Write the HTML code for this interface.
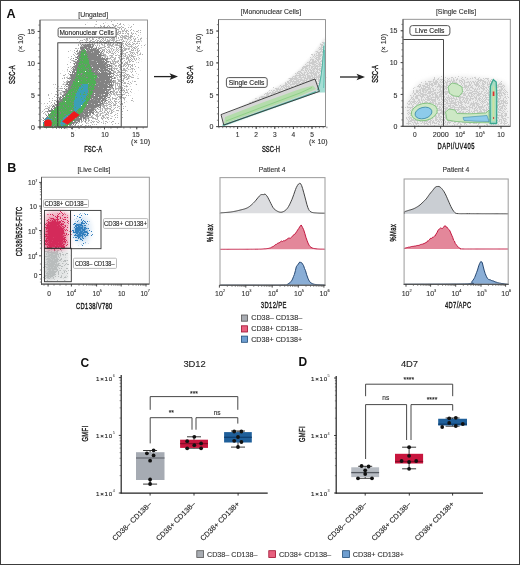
<!DOCTYPE html><html><head><meta charset="utf-8"><style>html,body{margin:0;padding:0;background:#fff}svg{display:block;will-change:transform}text{font-family:"Liberation Sans",sans-serif}</style></head><body>
<svg xmlns="http://www.w3.org/2000/svg" width="520" height="565" viewBox="0 0 520 565">
<defs>
<filter id="b1" x="-20%" y="-20%" width="140%" height="140%"><feGaussianBlur stdDeviation="1.2"/></filter>
<filter id="b2" x="-20%" y="-20%" width="140%" height="140%"><feGaussianBlur stdDeviation="2.2"/></filter>
<filter id="b3" x="-30%" y="-30%" width="160%" height="160%"><feGaussianBlur stdDeviation="3.5"/></filter>
<filter id="b05"><feGaussianBlur stdDeviation="0.5"/></filter>
<filter id="sg1" filterUnits="userSpaceOnUse" x="0" y="0" width="520" height="565" color-interpolation-filters="sRGB">
<feTurbulence type="fractalNoise" baseFrequency="1.3" numOctaves="2" seed="7" result="noise"/>
<feColorMatrix in="noise" type="matrix" values="0 0 0 0 0 0 0 0 0 0 0 0 0 0 0 1.6 0 0 0 -0.3" result="nA"/>
<feComposite in="SourceGraphic" in2="nA" operator="arithmetic" k1="0" k2="1" k3="-1" k4="0.5" result="diff"/>
<feComponentTransfer in="diff" result="th"><feFuncA type="linear" slope="12" intercept="-6.5"/></feComponentTransfer>
<feFlood flood-color="#b0b0b0"/>
<feComposite in2="th" operator="in"/>
<feGaussianBlur stdDeviation="0.3"/>
</filter>
<filter id="sg2" filterUnits="userSpaceOnUse" x="0" y="0" width="520" height="565" color-interpolation-filters="sRGB">
<feTurbulence type="fractalNoise" baseFrequency="1.3" numOctaves="2" seed="11" result="noise"/>
<feColorMatrix in="noise" type="matrix" values="0 0 0 0 0 0 0 0 0 0 0 0 0 0 0 1.6 0 0 0 -0.3" result="nA"/>
<feComposite in="SourceGraphic" in2="nA" operator="arithmetic" k1="0" k2="1" k3="-1" k4="0.5" result="diff"/>
<feComponentTransfer in="diff" result="th"><feFuncA type="linear" slope="12" intercept="-6.5"/></feComponentTransfer>
<feFlood flood-color="#828282"/>
<feComposite in2="th" operator="in"/>
<feGaussianBlur stdDeviation="0.3"/>
</filter>
<filter id="sgr" filterUnits="userSpaceOnUse" x="0" y="0" width="520" height="565" color-interpolation-filters="sRGB">
<feTurbulence type="fractalNoise" baseFrequency="1.3" numOctaves="2" seed="5" result="noise"/>
<feColorMatrix in="noise" type="matrix" values="0 0 0 0 0 0 0 0 0 0 0 0 0 0 0 1.6 0 0 0 -0.3" result="nA"/>
<feComposite in="SourceGraphic" in2="nA" operator="arithmetic" k1="0" k2="1" k3="-1" k4="0.5" result="diff"/>
<feComponentTransfer in="diff" result="th"><feFuncA type="linear" slope="12" intercept="-6.5"/></feComponentTransfer>
<feFlood flood-color="#4fae55"/>
<feComposite in2="th" operator="in"/>
<feGaussianBlur stdDeviation="0.3"/>
</filter>
<filter id="scy" filterUnits="userSpaceOnUse" x="0" y="0" width="520" height="565" color-interpolation-filters="sRGB">
<feTurbulence type="fractalNoise" baseFrequency="1.3" numOctaves="2" seed="3" result="noise"/>
<feColorMatrix in="noise" type="matrix" values="0 0 0 0 0 0 0 0 0 0 0 0 0 0 0 1.6 0 0 0 -0.3" result="nA"/>
<feComposite in="SourceGraphic" in2="nA" operator="arithmetic" k1="0" k2="1" k3="-1" k4="0.5" result="diff"/>
<feComponentTransfer in="diff" result="th"><feFuncA type="linear" slope="12" intercept="-6.5"/></feComponentTransfer>
<feFlood flood-color="#3b9fb8"/>
<feComposite in2="th" operator="in"/>
<feGaussianBlur stdDeviation="0.3"/>
</filter>
<filter id="sl" filterUnits="userSpaceOnUse" x="0" y="0" width="520" height="565" color-interpolation-filters="sRGB">
<feTurbulence type="fractalNoise" baseFrequency="1.3" numOctaves="2" seed="13" result="noise"/>
<feColorMatrix in="noise" type="matrix" values="0 0 0 0 0 0 0 0 0 0 0 0 0 0 0 1.6 0 0 0 -0.3" result="nA"/>
<feComposite in="SourceGraphic" in2="nA" operator="arithmetic" k1="0" k2="1" k3="-1" k4="0.5" result="diff"/>
<feComponentTransfer in="diff" result="th"><feFuncA type="linear" slope="12" intercept="-6.5"/></feComponentTransfer>
<feFlood flood-color="#cccccc"/>
<feComposite in2="th" operator="in"/>
<feGaussianBlur stdDeviation="0.3"/>
</filter>
<filter id="sred" filterUnits="userSpaceOnUse" x="0" y="0" width="520" height="565" color-interpolation-filters="sRGB">
<feTurbulence type="fractalNoise" baseFrequency="1.3" numOctaves="2" seed="21" result="noise"/>
<feColorMatrix in="noise" type="matrix" values="0 0 0 0 0 0 0 0 0 0 0 0 0 0 0 1.6 0 0 0 -0.3" result="nA"/>
<feComposite in="SourceGraphic" in2="nA" operator="arithmetic" k1="0" k2="1" k3="-1" k4="0.5" result="diff"/>
<feComponentTransfer in="diff" result="th"><feFuncA type="linear" slope="12" intercept="-6.5"/></feComponentTransfer>
<feFlood flood-color="#d42a5a"/>
<feComposite in2="th" operator="in"/>
<feGaussianBlur stdDeviation="0.3"/>
</filter>
<filter id="sblu" filterUnits="userSpaceOnUse" x="0" y="0" width="520" height="565" color-interpolation-filters="sRGB">
<feTurbulence type="fractalNoise" baseFrequency="1.3" numOctaves="2" seed="23" result="noise"/>
<feColorMatrix in="noise" type="matrix" values="0 0 0 0 0 0 0 0 0 0 0 0 0 0 0 1.6 0 0 0 -0.3" result="nA"/>
<feComposite in="SourceGraphic" in2="nA" operator="arithmetic" k1="0" k2="1" k3="-1" k4="0.5" result="diff"/>
<feComponentTransfer in="diff" result="th"><feFuncA type="linear" slope="12" intercept="-6.5"/></feComponentTransfer>
<feFlood flood-color="#2f7cbc"/>
<feComposite in2="th" operator="in"/>
<feGaussianBlur stdDeviation="0.3"/>
</filter>
<filter id="sgry" filterUnits="userSpaceOnUse" x="0" y="0" width="520" height="565" color-interpolation-filters="sRGB">
<feTurbulence type="fractalNoise" baseFrequency="1.3" numOctaves="2" seed="25" result="noise"/>
<feColorMatrix in="noise" type="matrix" values="0 0 0 0 0 0 0 0 0 0 0 0 0 0 0 1.6 0 0 0 -0.3" result="nA"/>
<feComposite in="SourceGraphic" in2="nA" operator="arithmetic" k1="0" k2="1" k3="-1" k4="0.5" result="diff"/>
<feComponentTransfer in="diff" result="th"><feFuncA type="linear" slope="12" intercept="-6.5"/></feComponentTransfer>
<feFlood flood-color="#b8bcbc"/>
<feComposite in2="th" operator="in"/>
<feGaussianBlur stdDeviation="0.3"/>
</filter>
<filter id="sl2" filterUnits="userSpaceOnUse" x="0" y="0" width="520" height="565" color-interpolation-filters="sRGB">
<feTurbulence type="fractalNoise" baseFrequency="1.3" numOctaves="2" seed="17" result="noise"/>
<feColorMatrix in="noise" type="matrix" values="0 0 0 0 0 0 0 0 0 0 0 0 0 0 0 1.6 0 0 0 -0.3" result="nA"/>
<feComposite in="SourceGraphic" in2="nA" operator="arithmetic" k1="0" k2="1" k3="-1" k4="0.5" result="diff"/>
<feComponentTransfer in="diff" result="th"><feFuncA type="linear" slope="12" intercept="-6.5"/></feComponentTransfer>
<feFlood flood-color="#a0a0a0"/>
<feComposite in2="th" operator="in"/>
<feGaussianBlur stdDeviation="0.3"/>
</filter>
</defs>
<rect x="0" y="0" width="520" height="565" fill="#fff"/>
<text x="6.60" y="17.80" font-size="12.6" text-anchor="start" fill="#111" font-weight="bold" >A</text>
<text x="7.20" y="172.40" font-size="12.6" text-anchor="start" fill="#111" font-weight="bold" >B</text>
<text x="80.60" y="366.80" font-size="12.0" text-anchor="start" fill="#111" font-weight="bold" >C</text>
<text x="298.40" y="366.40" font-size="12.0" text-anchor="start" fill="#111" font-weight="bold" >D</text>
<g filter="url(#sg1)"><g filter="url(#b3)">
<path d="M44,127 L42,105 L55,85 L66,62 L74,40 L84,22 L110,21 L146,21 L147,50 L140,80 L132,105 L120,127 Z" fill="#000" opacity="0.3"/>
<path d="M42,127 L42,112 L56,96 L68,72 L76,50 L86,30 L104,24 L130,26 L140,40 L136,70 L126,100 L110,120 L90,127 Z" fill="#000" opacity="0.4"/>
</g></g>
<g filter="url(#sg2)"><g filter="url(#b2)">
<path d="M42.2,128 L43.3,117.4 L46.5,111 L55,102.6 L63,91 L68,80 L71.5,70 L74.5,60 L78,50 L82,43 L92,42.5 L102,50 L109,58 L114,68 L116,80 L113,92 L108,102 L100,110 L90,118 L80,124 L69.7,128 Z" fill="#000" opacity="0.55"/>
<path d="M44,128 L46,116 L56,104 L64,92 L70,78 L75,62 L80,48 L86,44 L94,46 L100,54 L106,62 L110,72 L110,84 L106,96 L98,106 L88,116 L76,124 L66,128 Z" fill="#000" opacity="0.75"/>
</g></g>
<g filter="url(#sgr)"><g filter="url(#b05)">
<path d="M43,125 L48,115 L58,105 L66,95 L72,85 L76,75 L78,65 L80,55 L82,50 L85,49 L88,55 L90,65 L93,72 L97,75 L96,85 L92,95 L87,105 L80,115 L70,125 L65,128 L43,128 Z" fill="#000" opacity="0.8"/>
</g></g>
<g filter="url(#scy)"><g filter="url(#b05)">
<path d="M73,107 L75,97 L78,89 L82,84 L88,84 L88,93 L85,101 L80,108 L75,112 Z" fill="#000" opacity="0.85"/>
<path d="M60,122 L66,115 L74,111 L79,112 L76,118 L68,124 L61,126 Z" fill="#000" opacity="0.8"/>
<path d="M43,122 L47,117 L52,119 L52,126 L44,127 Z" fill="#000" opacity="0.8"/>
</g></g>
<path d="M44.6,121 L47,119.8 L50.5,120 L51.8,123 L51,126.6 L44.6,126.6 Z" fill="#ee1a1a" stroke="#e82020" stroke-width="0.6" stroke-linejoin="round"/>
<path d="M62.5,121.5 L67.5,124.2 L79.2,115 L74,111.4 Z" fill="#ee1a1a" stroke="#e82020" stroke-width="0.8" stroke-linejoin="round"/>
<rect x="57.80" y="42.80" width="63.40" height="84.20" fill="none" stroke="#333" stroke-width="0.9" />
<rect x="40.00" y="20.00" width="107.50" height="107.00" fill="none" stroke="#8a8a8a" stroke-width="0.9" />
<line x1="40.00" y1="20.00" x2="40.00" y2="127.50" stroke="#555" stroke-width="1.0" />
<line x1="39.50" y1="127.00" x2="147.50" y2="127.00" stroke="#444" stroke-width="1.0" />
<line x1="37.60" y1="127.00" x2="40.00" y2="127.00" stroke="#333" stroke-width="0.9" />
<line x1="37.60" y1="95.15" x2="40.00" y2="95.15" stroke="#333" stroke-width="0.9" />
<line x1="37.60" y1="63.30" x2="40.00" y2="63.30" stroke="#333" stroke-width="0.9" />
<line x1="37.60" y1="31.45" x2="40.00" y2="31.45" stroke="#333" stroke-width="0.9" />
<line x1="38.40" y1="127.00" x2="40.00" y2="127.00" stroke="#555" stroke-width="0.7" />
<line x1="38.40" y1="120.63" x2="40.00" y2="120.63" stroke="#555" stroke-width="0.7" />
<line x1="38.40" y1="114.26" x2="40.00" y2="114.26" stroke="#555" stroke-width="0.7" />
<line x1="38.40" y1="107.89" x2="40.00" y2="107.89" stroke="#555" stroke-width="0.7" />
<line x1="38.40" y1="101.52" x2="40.00" y2="101.52" stroke="#555" stroke-width="0.7" />
<line x1="38.40" y1="95.15" x2="40.00" y2="95.15" stroke="#555" stroke-width="0.7" />
<line x1="38.40" y1="88.78" x2="40.00" y2="88.78" stroke="#555" stroke-width="0.7" />
<line x1="38.40" y1="82.41" x2="40.00" y2="82.41" stroke="#555" stroke-width="0.7" />
<line x1="38.40" y1="76.04" x2="40.00" y2="76.04" stroke="#555" stroke-width="0.7" />
<line x1="38.40" y1="69.67" x2="40.00" y2="69.67" stroke="#555" stroke-width="0.7" />
<line x1="38.40" y1="63.30" x2="40.00" y2="63.30" stroke="#555" stroke-width="0.7" />
<line x1="38.40" y1="56.93" x2="40.00" y2="56.93" stroke="#555" stroke-width="0.7" />
<line x1="38.40" y1="50.56" x2="40.00" y2="50.56" stroke="#555" stroke-width="0.7" />
<line x1="38.40" y1="44.19" x2="40.00" y2="44.19" stroke="#555" stroke-width="0.7" />
<line x1="38.40" y1="37.82" x2="40.00" y2="37.82" stroke="#555" stroke-width="0.7" />
<line x1="38.40" y1="31.45" x2="40.00" y2="31.45" stroke="#555" stroke-width="0.7" />
<line x1="38.40" y1="25.08" x2="40.00" y2="25.08" stroke="#555" stroke-width="0.7" />
<line x1="40.00" y1="127.00" x2="40.00" y2="129.40" stroke="#333" stroke-width="0.9" />
<line x1="72.25" y1="127.00" x2="72.25" y2="129.40" stroke="#333" stroke-width="0.9" />
<line x1="104.50" y1="127.00" x2="104.50" y2="129.40" stroke="#333" stroke-width="0.9" />
<line x1="136.75" y1="127.00" x2="136.75" y2="129.40" stroke="#333" stroke-width="0.9" />
<line x1="40.00" y1="127.00" x2="40.00" y2="128.60" stroke="#555" stroke-width="0.7" />
<line x1="46.45" y1="127.00" x2="46.45" y2="128.60" stroke="#555" stroke-width="0.7" />
<line x1="52.90" y1="127.00" x2="52.90" y2="128.60" stroke="#555" stroke-width="0.7" />
<line x1="59.35" y1="127.00" x2="59.35" y2="128.60" stroke="#555" stroke-width="0.7" />
<line x1="65.80" y1="127.00" x2="65.80" y2="128.60" stroke="#555" stroke-width="0.7" />
<line x1="72.25" y1="127.00" x2="72.25" y2="128.60" stroke="#555" stroke-width="0.7" />
<line x1="78.70" y1="127.00" x2="78.70" y2="128.60" stroke="#555" stroke-width="0.7" />
<line x1="85.15" y1="127.00" x2="85.15" y2="128.60" stroke="#555" stroke-width="0.7" />
<line x1="91.60" y1="127.00" x2="91.60" y2="128.60" stroke="#555" stroke-width="0.7" />
<line x1="98.05" y1="127.00" x2="98.05" y2="128.60" stroke="#555" stroke-width="0.7" />
<line x1="104.50" y1="127.00" x2="104.50" y2="128.60" stroke="#555" stroke-width="0.7" />
<line x1="110.95" y1="127.00" x2="110.95" y2="128.60" stroke="#555" stroke-width="0.7" />
<line x1="117.40" y1="127.00" x2="117.40" y2="128.60" stroke="#555" stroke-width="0.7" />
<line x1="123.85" y1="127.00" x2="123.85" y2="128.60" stroke="#555" stroke-width="0.7" />
<line x1="130.30" y1="127.00" x2="130.30" y2="128.60" stroke="#555" stroke-width="0.7" />
<line x1="136.75" y1="127.00" x2="136.75" y2="128.60" stroke="#555" stroke-width="0.7" />
<line x1="143.20" y1="127.00" x2="143.20" y2="128.60" stroke="#555" stroke-width="0.7" />
<text x="35.00" y="129.50" font-size="7" text-anchor="end" fill="#333" stroke="#333" stroke-width="0.12" >0</text>
<text x="35.00" y="97.50" font-size="7" text-anchor="end" fill="#333" stroke="#333" stroke-width="0.12" >5</text>
<text x="35.00" y="66.00" font-size="7" text-anchor="end" fill="#333" stroke="#333" stroke-width="0.12" >10</text>
<text x="35.00" y="34.00" font-size="7" text-anchor="end" fill="#333" stroke="#333" stroke-width="0.12" >15</text>
<text x="72.50" y="137.40" font-size="6.6" text-anchor="middle" fill="#333" stroke="#333" stroke-width="0.12" >5</text>
<text x="105.00" y="137.40" font-size="6.6" text-anchor="middle" fill="#333" stroke="#333" stroke-width="0.12" >10</text>
<text x="136.00" y="137.40" font-size="6.6" text-anchor="middle" fill="#333" stroke="#333" stroke-width="0.12" >15</text>
<text x="140.60" y="144.20" font-size="6.8" text-anchor="middle" fill="#333" stroke="#333" stroke-width="0.12" textLength="19" lengthAdjust="spacingAndGlyphs" >(× 10)</text>
<text x="22.90" y="43.00" font-size="6.8" text-anchor="middle" fill="#333" stroke="#333" stroke-width="0.12" textLength="18.6" lengthAdjust="spacingAndGlyphs" transform="rotate(-90 22.90 43.00)" >(× 10)</text>
<text x="0" y="0" font-size="9.7" text-anchor="middle" fill="#1a1a1a" stroke="#1a1a1a" stroke-width="0.42" textLength="31.00" lengthAdjust="spacing" transform="translate(15.40 74.70) rotate(-90) scale(0.6 1)">SSC-A</text>
<text x="0" y="0" font-size="9.7" text-anchor="middle" fill="#1a1a1a" stroke="#1a1a1a" stroke-width="0.42" textLength="29.83" lengthAdjust="spacing" transform="translate(93.15 151.90) scale(0.6 1)">FSC-A</text>
<text x="93.20" y="17.40" font-size="6.8" text-anchor="middle" fill="#333" stroke="#333" stroke-width="0.12" textLength="29.8" lengthAdjust="spacingAndGlyphs" >[Ungated]</text>
<rect x="58.10" y="27.90" width="58.00" height="9.20" fill="#fff" stroke="#555" stroke-width="1.0" rx="1.5"/>
<text x="86.55" y="35.30" font-size="7" text-anchor="middle" fill="#222" stroke="#222" stroke-width="0.12" textLength="54.3" lengthAdjust="spacingAndGlyphs" >Mononuclear Cells</text>
<line x1="154.00" y1="76.60" x2="172.00" y2="76.60" stroke="#222" stroke-width="1.3" />
<path d="M178.00,76.60 L169.50,73.30 L171.50,76.60 L169.50,79.90 Z" fill="#222"/>
<path d="M222,124 L224,118 L235,110 L260,96 L285,82.5 L300,69 L310,58 L317.5,48 L322.5,40.5 L325.3,37 L325.3,90 L300,98 L224,126 Z" fill="#ebebeb" filter="url(#b1)"/>
<g filter="url(#sl)"><g filter="url(#b1)">
<path d="M222,124 L224,118 L235,110 L260,96 L285,82.5 L300,69 L310,58 L317.5,48 L322.5,40.5 L325.3,37 L325.3,90 L300,98 L224,126 Z" fill="#000" opacity="0.68"/>
</g></g>
<path d="M221.5,115 L315,79.3 L319,91 L223.8,125 Z" fill="#d6d6d6" filter="url(#b05)"/>
<path d="M224,124 L260,110.5 L300,96 L316,89 L313,85.5 L300,89 L260,103.5 L225,117 Z" fill="#b4dcab" filter="url(#b05)"/>
<path d="M226,121 L260,108 L300,93 L312,87.5" fill="none" stroke="#8fd088" stroke-width="1"/>
<path d="M222.5,125.6 L260,112.2 L300,97.8 L316,91.8" fill="none" stroke="#7ccfc0" stroke-width="1.8" filter="url(#b05)"/>
<path d="M316,92.5 L318.3,88.5 L319.8,82 L321.2,74 L322.5,62 L323.4,50 L323.9,42.5 L325.1,42 L325.1,92.5 Z" fill="#a4ded4" filter="url(#b05)"/>
<path d="M317.5,90 L319.6,84 L321,76 L322.3,66 L323.2,55 L323.8,46" fill="none" stroke="#3ea898" stroke-width="0.8"/>
<path d="M323.6,88 L324.3,70 L324.6,50" fill="none" stroke="#5bbfb0" stroke-width="0.8"/>
<path d="M223,125.4 L260,112 L300,97.6 L316,91.6" fill="none" stroke="#45a898" stroke-width="0.5"/>
<path d="M221,114.6 L315,79 L319.4,91.4 L223.8,125 Z" fill="none" stroke="#333" stroke-width="0.9"/>
<rect x="218.50" y="19.60" width="107.00" height="107.00" fill="none" stroke="#8a8a8a" stroke-width="0.9" />
<line x1="218.50" y1="19.60" x2="218.50" y2="127.10" stroke="#555" stroke-width="1.0" />
<line x1="218.00" y1="126.60" x2="325.50" y2="126.60" stroke="#444" stroke-width="1.0" />
<line x1="216.10" y1="126.60" x2="218.50" y2="126.60" stroke="#333" stroke-width="0.9" />
<line x1="216.10" y1="94.75" x2="218.50" y2="94.75" stroke="#333" stroke-width="0.9" />
<line x1="216.10" y1="62.90" x2="218.50" y2="62.90" stroke="#333" stroke-width="0.9" />
<line x1="216.10" y1="31.05" x2="218.50" y2="31.05" stroke="#333" stroke-width="0.9" />
<line x1="216.90" y1="126.60" x2="218.50" y2="126.60" stroke="#555" stroke-width="0.7" />
<line x1="216.90" y1="120.23" x2="218.50" y2="120.23" stroke="#555" stroke-width="0.7" />
<line x1="216.90" y1="113.86" x2="218.50" y2="113.86" stroke="#555" stroke-width="0.7" />
<line x1="216.90" y1="107.49" x2="218.50" y2="107.49" stroke="#555" stroke-width="0.7" />
<line x1="216.90" y1="101.12" x2="218.50" y2="101.12" stroke="#555" stroke-width="0.7" />
<line x1="216.90" y1="94.75" x2="218.50" y2="94.75" stroke="#555" stroke-width="0.7" />
<line x1="216.90" y1="88.38" x2="218.50" y2="88.38" stroke="#555" stroke-width="0.7" />
<line x1="216.90" y1="82.01" x2="218.50" y2="82.01" stroke="#555" stroke-width="0.7" />
<line x1="216.90" y1="75.64" x2="218.50" y2="75.64" stroke="#555" stroke-width="0.7" />
<line x1="216.90" y1="69.27" x2="218.50" y2="69.27" stroke="#555" stroke-width="0.7" />
<line x1="216.90" y1="62.90" x2="218.50" y2="62.90" stroke="#555" stroke-width="0.7" />
<line x1="216.90" y1="56.53" x2="218.50" y2="56.53" stroke="#555" stroke-width="0.7" />
<line x1="216.90" y1="50.16" x2="218.50" y2="50.16" stroke="#555" stroke-width="0.7" />
<line x1="216.90" y1="43.79" x2="218.50" y2="43.79" stroke="#555" stroke-width="0.7" />
<line x1="216.90" y1="37.42" x2="218.50" y2="37.42" stroke="#555" stroke-width="0.7" />
<line x1="216.90" y1="31.05" x2="218.50" y2="31.05" stroke="#555" stroke-width="0.7" />
<line x1="216.90" y1="24.68" x2="218.50" y2="24.68" stroke="#555" stroke-width="0.7" />
<line x1="237.60" y1="126.60" x2="237.60" y2="129.00" stroke="#333" stroke-width="0.9" />
<line x1="256.20" y1="126.60" x2="256.20" y2="129.00" stroke="#333" stroke-width="0.9" />
<line x1="274.80" y1="126.60" x2="274.80" y2="129.00" stroke="#333" stroke-width="0.9" />
<line x1="293.40" y1="126.60" x2="293.40" y2="129.00" stroke="#333" stroke-width="0.9" />
<line x1="312.00" y1="126.60" x2="312.00" y2="129.00" stroke="#333" stroke-width="0.9" />
<line x1="219.00" y1="126.60" x2="219.00" y2="128.20" stroke="#555" stroke-width="0.7" />
<line x1="222.72" y1="126.60" x2="222.72" y2="128.20" stroke="#555" stroke-width="0.7" />
<line x1="226.44" y1="126.60" x2="226.44" y2="128.20" stroke="#555" stroke-width="0.7" />
<line x1="230.16" y1="126.60" x2="230.16" y2="128.20" stroke="#555" stroke-width="0.7" />
<line x1="233.88" y1="126.60" x2="233.88" y2="128.20" stroke="#555" stroke-width="0.7" />
<line x1="237.60" y1="126.60" x2="237.60" y2="128.20" stroke="#555" stroke-width="0.7" />
<line x1="241.32" y1="126.60" x2="241.32" y2="128.20" stroke="#555" stroke-width="0.7" />
<line x1="245.04" y1="126.60" x2="245.04" y2="128.20" stroke="#555" stroke-width="0.7" />
<line x1="248.76" y1="126.60" x2="248.76" y2="128.20" stroke="#555" stroke-width="0.7" />
<line x1="252.48" y1="126.60" x2="252.48" y2="128.20" stroke="#555" stroke-width="0.7" />
<line x1="256.20" y1="126.60" x2="256.20" y2="128.20" stroke="#555" stroke-width="0.7" />
<line x1="259.92" y1="126.60" x2="259.92" y2="128.20" stroke="#555" stroke-width="0.7" />
<line x1="263.64" y1="126.60" x2="263.64" y2="128.20" stroke="#555" stroke-width="0.7" />
<line x1="267.36" y1="126.60" x2="267.36" y2="128.20" stroke="#555" stroke-width="0.7" />
<line x1="271.08" y1="126.60" x2="271.08" y2="128.20" stroke="#555" stroke-width="0.7" />
<line x1="274.80" y1="126.60" x2="274.80" y2="128.20" stroke="#555" stroke-width="0.7" />
<line x1="278.52" y1="126.60" x2="278.52" y2="128.20" stroke="#555" stroke-width="0.7" />
<line x1="282.24" y1="126.60" x2="282.24" y2="128.20" stroke="#555" stroke-width="0.7" />
<line x1="285.96" y1="126.60" x2="285.96" y2="128.20" stroke="#555" stroke-width="0.7" />
<line x1="289.68" y1="126.60" x2="289.68" y2="128.20" stroke="#555" stroke-width="0.7" />
<line x1="293.40" y1="126.60" x2="293.40" y2="128.20" stroke="#555" stroke-width="0.7" />
<line x1="297.12" y1="126.60" x2="297.12" y2="128.20" stroke="#555" stroke-width="0.7" />
<line x1="300.84" y1="126.60" x2="300.84" y2="128.20" stroke="#555" stroke-width="0.7" />
<line x1="304.56" y1="126.60" x2="304.56" y2="128.20" stroke="#555" stroke-width="0.7" />
<line x1="308.28" y1="126.60" x2="308.28" y2="128.20" stroke="#555" stroke-width="0.7" />
<line x1="312.00" y1="126.60" x2="312.00" y2="128.20" stroke="#555" stroke-width="0.7" />
<line x1="315.72" y1="126.60" x2="315.72" y2="128.20" stroke="#555" stroke-width="0.7" />
<line x1="319.44" y1="126.60" x2="319.44" y2="128.20" stroke="#555" stroke-width="0.7" />
<line x1="323.16" y1="126.60" x2="323.16" y2="128.20" stroke="#555" stroke-width="0.7" />
<line x1="326.88" y1="126.60" x2="326.88" y2="128.20" stroke="#555" stroke-width="0.7" />
<text x="213.50" y="129.10" font-size="7" text-anchor="end" fill="#333" stroke="#333" stroke-width="0.12" >0</text>
<text x="213.50" y="97.70" font-size="7" text-anchor="end" fill="#333" stroke="#333" stroke-width="0.12" >5</text>
<text x="213.50" y="65.50" font-size="7" text-anchor="end" fill="#333" stroke="#333" stroke-width="0.12" >10</text>
<text x="213.50" y="34.00" font-size="7" text-anchor="end" fill="#333" stroke="#333" stroke-width="0.12" >15</text>
<text x="237.60" y="137.30" font-size="6.6" text-anchor="middle" fill="#333" stroke="#333" stroke-width="0.12" >1</text>
<text x="256.20" y="137.30" font-size="6.6" text-anchor="middle" fill="#333" stroke="#333" stroke-width="0.12" >2</text>
<text x="274.80" y="137.30" font-size="6.6" text-anchor="middle" fill="#333" stroke="#333" stroke-width="0.12" >3</text>
<text x="293.40" y="137.30" font-size="6.6" text-anchor="middle" fill="#333" stroke="#333" stroke-width="0.12" >4</text>
<text x="312.00" y="137.30" font-size="6.6" text-anchor="middle" fill="#333" stroke="#333" stroke-width="0.12" >5</text>
<text x="318.30" y="144.20" font-size="6.8" text-anchor="middle" fill="#333" stroke="#333" stroke-width="0.12" textLength="18.8" lengthAdjust="spacingAndGlyphs" >(× 10)</text>
<text x="201.10" y="43.00" font-size="6.8" text-anchor="middle" fill="#333" stroke="#333" stroke-width="0.12" textLength="18.6" lengthAdjust="spacingAndGlyphs" transform="rotate(-90 201.10 43.00)" >(× 10)</text>
<text x="0" y="0" font-size="9.7" text-anchor="middle" fill="#1a1a1a" stroke="#1a1a1a" stroke-width="0.42" textLength="29.83" lengthAdjust="spacing" transform="translate(193.00 74.50) rotate(-90) scale(0.6 1)">SSC-A</text>
<text x="0" y="0" font-size="9.7" text-anchor="middle" fill="#1a1a1a" stroke="#1a1a1a" stroke-width="0.42" textLength="30.17" lengthAdjust="spacing" transform="translate(270.95 151.80) scale(0.6 1)">SSC-H</text>
<text x="271.00" y="14.20" font-size="6.8" text-anchor="middle" fill="#333" stroke="#333" stroke-width="0.12" textLength="60.4" lengthAdjust="spacingAndGlyphs" >[Mononuclear Cells]</text>
<rect x="226.40" y="77.60" width="40.80" height="9.80" fill="#fff" stroke="#555" stroke-width="1.0" rx="2.2"/>
<text x="246.50" y="84.60" font-size="7.4" text-anchor="middle" fill="#222" stroke="#222" stroke-width="0.12" textLength="35.6" lengthAdjust="spacingAndGlyphs" >Single Cells</text>
<line x1="340.00" y1="77.00" x2="359.00" y2="77.00" stroke="#222" stroke-width="1.3" />
<path d="M365.00,77.00 L356.50,73.70 L358.50,77.00 L356.50,80.30 Z" fill="#222"/>
<path d="M405,126 L405.5,105 L410.5,93.3 L419,82.7 L433.7,77.4 L465.5,76.3 L490.8,78.5 L505.7,82.7 L508.5,90 L508.5,126 Z" fill="#ececec" filter="url(#b2)"/>
<g filter="url(#sl)"><g filter="url(#b2)">
<path d="M405,126 L405.5,105 L410.5,93.3 L419,82.7 L433.7,77.4 L465.5,76.3 L490.8,78.5 L505.7,82.7 L508.5,90 L508.5,126 Z" fill="#000" opacity="0.62"/>
</g></g>
<ellipse cx="424.3" cy="112" rx="13.2" ry="8.6" fill="#cde8c5" stroke="#78be76" stroke-width="0.8" transform="rotate(-12 424.3 112)"/>
<ellipse cx="423.5" cy="113" rx="8.6" ry="5.6" fill="#8dcbea" stroke="#3d8ca8" stroke-width="0.8" transform="rotate(-15 423.5 113)"/>
<path d="M448,87 L452,83 L457,84 L462,87 L462.5,92 L459,96.5 L454,96 L449.5,93.5 Z" fill="#cde8c5" stroke="#78be76" stroke-width="0.8"/>
<path d="M445.5,112 L449,109 L455,110 L457,113.5 L470,113.8 L486,113 L489,110 L489,122.8 L470,122.5 L456,121.5 L447,120 Z" fill="#cde8c5" stroke="#78be76" stroke-width="0.8"/>
<path d="M463,117.5 L475,116.5 L487,115.5 L489,121.5 L475,121.2 L464,120.5 Z" fill="#8dcbea" stroke="#3d8ca8" stroke-width="0.6"/>
<path d="M490.2,123.5 L490,100 L490.4,86 L493.3,79.5 L496.2,82 L496.8,95 L496.6,123.5 Z" fill="#a6dcc4" stroke="#3aa890" stroke-width="1.3"/>
<path d="M492.4,121 L492.3,100 L492.8,88 L493.6,85 L494.4,88 L494.6,100 L494.5,121 Z" fill="#c9e2a2"/>
<rect x="492.7" y="91.5" width="1.7" height="4.5" fill="#e03030"/>
<rect x="493" y="117" width="1.1" height="2" fill="#c85050"/>
<path d="M403,39.5 L443.5,39.5 L443.5,126.3" fill="none" stroke="#333" stroke-width="0.9"/>
<rect x="403.00" y="19.30" width="107.30" height="107.00" fill="none" stroke="#8a8a8a" stroke-width="0.9" />
<line x1="403.00" y1="19.30" x2="403.00" y2="126.80" stroke="#555" stroke-width="1.0" />
<line x1="402.50" y1="126.30" x2="510.30" y2="126.30" stroke="#444" stroke-width="1.0" />
<line x1="400.60" y1="126.30" x2="403.00" y2="126.30" stroke="#333" stroke-width="0.9" />
<line x1="400.60" y1="94.45" x2="403.00" y2="94.45" stroke="#333" stroke-width="0.9" />
<line x1="400.60" y1="62.60" x2="403.00" y2="62.60" stroke="#333" stroke-width="0.9" />
<line x1="400.60" y1="30.75" x2="403.00" y2="30.75" stroke="#333" stroke-width="0.9" />
<line x1="401.40" y1="126.30" x2="403.00" y2="126.30" stroke="#555" stroke-width="0.7" />
<line x1="401.40" y1="119.93" x2="403.00" y2="119.93" stroke="#555" stroke-width="0.7" />
<line x1="401.40" y1="113.56" x2="403.00" y2="113.56" stroke="#555" stroke-width="0.7" />
<line x1="401.40" y1="107.19" x2="403.00" y2="107.19" stroke="#555" stroke-width="0.7" />
<line x1="401.40" y1="100.82" x2="403.00" y2="100.82" stroke="#555" stroke-width="0.7" />
<line x1="401.40" y1="94.45" x2="403.00" y2="94.45" stroke="#555" stroke-width="0.7" />
<line x1="401.40" y1="88.08" x2="403.00" y2="88.08" stroke="#555" stroke-width="0.7" />
<line x1="401.40" y1="81.71" x2="403.00" y2="81.71" stroke="#555" stroke-width="0.7" />
<line x1="401.40" y1="75.34" x2="403.00" y2="75.34" stroke="#555" stroke-width="0.7" />
<line x1="401.40" y1="68.97" x2="403.00" y2="68.97" stroke="#555" stroke-width="0.7" />
<line x1="401.40" y1="62.60" x2="403.00" y2="62.60" stroke="#555" stroke-width="0.7" />
<line x1="401.40" y1="56.23" x2="403.00" y2="56.23" stroke="#555" stroke-width="0.7" />
<line x1="401.40" y1="49.86" x2="403.00" y2="49.86" stroke="#555" stroke-width="0.7" />
<line x1="401.40" y1="43.49" x2="403.00" y2="43.49" stroke="#555" stroke-width="0.7" />
<line x1="401.40" y1="37.12" x2="403.00" y2="37.12" stroke="#555" stroke-width="0.7" />
<line x1="401.40" y1="30.75" x2="403.00" y2="30.75" stroke="#555" stroke-width="0.7" />
<line x1="401.40" y1="24.38" x2="403.00" y2="24.38" stroke="#555" stroke-width="0.7" />
<line x1="414.80" y1="126.30" x2="414.80" y2="128.70" stroke="#333" stroke-width="0.9" />
<line x1="440.60" y1="126.30" x2="440.60" y2="128.70" stroke="#333" stroke-width="0.9" />
<line x1="460.00" y1="126.30" x2="460.00" y2="128.70" stroke="#333" stroke-width="0.9" />
<line x1="480.00" y1="126.30" x2="480.00" y2="128.70" stroke="#333" stroke-width="0.9" />
<line x1="501.00" y1="126.30" x2="501.00" y2="128.70" stroke="#333" stroke-width="0.9" />
<text x="397.50" y="128.80" font-size="7" text-anchor="end" fill="#333" stroke="#333" stroke-width="0.12" >0</text>
<text x="397.50" y="97.70" font-size="7" text-anchor="end" fill="#333" stroke="#333" stroke-width="0.12" >5</text>
<text x="397.50" y="65.30" font-size="7" text-anchor="end" fill="#333" stroke="#333" stroke-width="0.12" >10</text>
<text x="397.50" y="33.00" font-size="7" text-anchor="end" fill="#333" stroke="#333" stroke-width="0.12" >15</text>
<text x="414.80" y="137.30" font-size="6.6" text-anchor="middle" fill="#333" stroke="#333" stroke-width="0.12" >0</text>
<text x="440.75" y="137.30" font-size="6.6" text-anchor="middle" fill="#333" stroke="#333" stroke-width="0.12" textLength="16.1" lengthAdjust="spacingAndGlyphs" >2000</text>
<text x="460.00" y="137.30" font-size="6.6" text-anchor="middle" fill="#333" stroke="#333" stroke-width="0.12">10<tspan font-size="3.70" dy="-3.63">4</tspan></text>
<text x="480.00" y="137.30" font-size="6.6" text-anchor="middle" fill="#333" stroke="#333" stroke-width="0.12">10<tspan font-size="3.70" dy="-3.63">5</tspan></text>
<text x="501.00" y="137.30" font-size="6.6" text-anchor="middle" fill="#333" stroke="#333" stroke-width="0.12" >10</text>
<text x="386.40" y="43.30" font-size="6.8" text-anchor="middle" fill="#333" stroke="#333" stroke-width="0.12" textLength="19" lengthAdjust="spacingAndGlyphs" transform="rotate(-90 386.40 43.30)" >(× 10)</text>
<text x="0" y="0" font-size="9.7" text-anchor="middle" fill="#1a1a1a" stroke="#1a1a1a" stroke-width="0.42" textLength="29.33" lengthAdjust="spacing" transform="translate(377.90 74.00) rotate(-90) scale(0.6 1)">SSC-A</text>
<text x="0" y="0" font-size="9.7" text-anchor="middle" fill="#1a1a1a" stroke="#1a1a1a" stroke-width="0.42" textLength="61.33" lengthAdjust="spacing" transform="translate(456.00 148.80) scale(0.6 1)">DAPI/UV405</text>
<text x="456.00" y="13.50" font-size="6.8" text-anchor="middle" fill="#333" stroke="#333" stroke-width="0.12" textLength="40.2" lengthAdjust="spacingAndGlyphs" >[Single Cells]</text>
<rect x="409.90" y="25.60" width="40.00" height="9.80" fill="#fff" stroke="#555" stroke-width="1.0" rx="2.5"/>
<text x="429.75" y="32.70" font-size="6.8" text-anchor="middle" fill="#222" stroke="#222" stroke-width="0.12" textLength="29.3" lengthAdjust="spacingAndGlyphs" >Live Cells</text>
<path d="M45,281 L45,250 L69,250 L69,281 Z" fill="#e4e6e6" filter="url(#b2)"/>
<path d="M45.5,279 L45.5,250 L58,250 L57,268 L52,279 Z" fill="#c4c8c8" filter="url(#b2)"/>
<g filter="url(#sgry)"><g filter="url(#b2)">
<path d="M45,281 L45,250 L70,250 L70,281 Z" fill="#000" opacity="0.45"/>
<path d="M45.5,279 L45.5,250 L58,250 L57,268 L52,279 Z" fill="#000" opacity="0.7"/>
</g></g>
<path d="M45,248 L45,214 L52,211 L62,211 L70,214 L70,248 Z" fill="#f0b8c6" filter="url(#b2)"/>
<path d="M45.6,248.4 L45.6,228 L48,222 L53,219.5 L58,221 L62,226 L64,236 L64,248.4 Z" fill="#d83a66" filter="url(#b2)"/>
<g filter="url(#sred)"><g filter="url(#b2)">
<path d="M45,248 L45,214 L52,211 L62,211 L70,214 L70,248 Z" fill="#000" opacity="0.45"/>
<path d="M45.6,248.4 L45.6,228 L48,222 L53,219.5 L58,221 L62,226 L64,236 L64,248.4 Z" fill="#000" opacity="0.9"/>
</g></g>
<ellipse cx="82" cy="230" rx="10" ry="15" fill="#e4eef8" filter="url(#b2)"/>
<ellipse cx="80.5" cy="231" rx="6" ry="7.5" fill="#6aa2d2" filter="url(#b2)"/>
<g filter="url(#sblu)"><g filter="url(#b2)">
<path d="M72,215 L80,212 L88,213 L93,220 L93,240 L88,247 L78,248 L72,244 Z" fill="#000" opacity="0.32"/>
<ellipse cx="80.5" cy="231" rx="7.5" ry="9" fill="#000" opacity="0.6"/>
</g></g>
<rect x="44.50" y="210.40" width="26.00" height="37.90" fill="none" stroke="#333" stroke-width="0.9" />
<rect x="70.50" y="210.40" width="30.50" height="38.30" fill="none" stroke="#333" stroke-width="0.9" />
<rect x="44.50" y="248.30" width="26.80" height="33.40" fill="none" stroke="#333" stroke-width="0.9" />
<rect x="41.50" y="177.20" width="107.80" height="106.90" fill="none" stroke="#8a8a8a" stroke-width="0.9" />
<line x1="41.50" y1="177.20" x2="41.50" y2="284.60" stroke="#555" stroke-width="1.0" />
<line x1="41.00" y1="284.10" x2="149.30" y2="284.10" stroke="#444" stroke-width="1.0" />
<line x1="39.10" y1="182.40" x2="41.50" y2="182.40" stroke="#333" stroke-width="0.9" />
<line x1="39.10" y1="206.10" x2="41.50" y2="206.10" stroke="#333" stroke-width="0.9" />
<line x1="39.10" y1="230.50" x2="41.50" y2="230.50" stroke="#333" stroke-width="0.9" />
<line x1="39.10" y1="255.80" x2="41.50" y2="255.80" stroke="#333" stroke-width="0.9" />
<line x1="39.10" y1="274.50" x2="41.50" y2="274.50" stroke="#333" stroke-width="0.9" />
<line x1="39.90" y1="248.18" x2="41.50" y2="248.18" stroke="#555" stroke-width="0.7" />
<line x1="39.90" y1="243.73" x2="41.50" y2="243.73" stroke="#555" stroke-width="0.7" />
<line x1="39.90" y1="240.57" x2="41.50" y2="240.57" stroke="#555" stroke-width="0.7" />
<line x1="39.90" y1="238.12" x2="41.50" y2="238.12" stroke="#555" stroke-width="0.7" />
<line x1="39.90" y1="236.11" x2="41.50" y2="236.11" stroke="#555" stroke-width="0.7" />
<line x1="39.90" y1="234.42" x2="41.50" y2="234.42" stroke="#555" stroke-width="0.7" />
<line x1="39.90" y1="232.95" x2="41.50" y2="232.95" stroke="#555" stroke-width="0.7" />
<line x1="39.90" y1="231.66" x2="41.50" y2="231.66" stroke="#555" stroke-width="0.7" />
<line x1="39.90" y1="223.15" x2="41.50" y2="223.15" stroke="#555" stroke-width="0.7" />
<line x1="39.90" y1="218.86" x2="41.50" y2="218.86" stroke="#555" stroke-width="0.7" />
<line x1="39.90" y1="215.81" x2="41.50" y2="215.81" stroke="#555" stroke-width="0.7" />
<line x1="39.90" y1="213.45" x2="41.50" y2="213.45" stroke="#555" stroke-width="0.7" />
<line x1="39.90" y1="211.51" x2="41.50" y2="211.51" stroke="#555" stroke-width="0.7" />
<line x1="39.90" y1="209.88" x2="41.50" y2="209.88" stroke="#555" stroke-width="0.7" />
<line x1="39.90" y1="208.46" x2="41.50" y2="208.46" stroke="#555" stroke-width="0.7" />
<line x1="39.90" y1="207.22" x2="41.50" y2="207.22" stroke="#555" stroke-width="0.7" />
<line x1="39.90" y1="198.97" x2="41.50" y2="198.97" stroke="#555" stroke-width="0.7" />
<line x1="39.90" y1="194.79" x2="41.50" y2="194.79" stroke="#555" stroke-width="0.7" />
<line x1="39.90" y1="191.83" x2="41.50" y2="191.83" stroke="#555" stroke-width="0.7" />
<line x1="39.90" y1="189.53" x2="41.50" y2="189.53" stroke="#555" stroke-width="0.7" />
<line x1="39.90" y1="187.66" x2="41.50" y2="187.66" stroke="#555" stroke-width="0.7" />
<line x1="39.90" y1="186.07" x2="41.50" y2="186.07" stroke="#555" stroke-width="0.7" />
<line x1="39.90" y1="184.70" x2="41.50" y2="184.70" stroke="#555" stroke-width="0.7" />
<line x1="39.90" y1="183.48" x2="41.50" y2="183.48" stroke="#555" stroke-width="0.7" />
<line x1="39.90" y1="264.00" x2="41.50" y2="264.00" stroke="#555" stroke-width="0.7" />
<line x1="39.90" y1="270.00" x2="41.50" y2="270.00" stroke="#555" stroke-width="0.7" />
<line x1="39.90" y1="279.00" x2="41.50" y2="279.00" stroke="#555" stroke-width="0.7" />
<line x1="39.90" y1="282.00" x2="41.50" y2="282.00" stroke="#555" stroke-width="0.7" />
<text x="37.40" y="185.40" font-size="6.6" text-anchor="end" fill="#333" stroke="#333" stroke-width="0.12">10<tspan font-size="3.70" dy="-3.63">7</tspan></text>
<text x="37.40" y="233.50" font-size="6.6" text-anchor="end" fill="#333" stroke="#333" stroke-width="0.12">10<tspan font-size="3.70" dy="-3.63">5</tspan></text>
<text x="37.40" y="258.80" font-size="6.6" text-anchor="end" fill="#333" stroke="#333" stroke-width="0.12">10<tspan font-size="3.70" dy="-3.63">4</tspan></text>
<text x="36.90" y="209.20" font-size="6.6" text-anchor="end" fill="#333" stroke="#333" stroke-width="0.12" >10</text>
<text x="37.30" y="277.60" font-size="6.6" text-anchor="end" fill="#333" stroke="#333" stroke-width="0.12" >0</text>
<line x1="48.10" y1="284.10" x2="48.10" y2="286.50" stroke="#333" stroke-width="0.9" />
<line x1="71.40" y1="284.10" x2="71.40" y2="286.50" stroke="#333" stroke-width="0.9" />
<line x1="96.60" y1="284.10" x2="96.60" y2="286.50" stroke="#333" stroke-width="0.9" />
<line x1="121.20" y1="284.10" x2="121.20" y2="286.50" stroke="#333" stroke-width="0.9" />
<line x1="146.00" y1="284.10" x2="146.00" y2="286.50" stroke="#333" stroke-width="0.9" />
<line x1="78.99" y1="284.10" x2="78.99" y2="285.70" stroke="#555" stroke-width="0.7" />
<line x1="83.42" y1="284.10" x2="83.42" y2="285.70" stroke="#555" stroke-width="0.7" />
<line x1="86.57" y1="284.10" x2="86.57" y2="285.70" stroke="#555" stroke-width="0.7" />
<line x1="89.01" y1="284.10" x2="89.01" y2="285.70" stroke="#555" stroke-width="0.7" />
<line x1="91.01" y1="284.10" x2="91.01" y2="285.70" stroke="#555" stroke-width="0.7" />
<line x1="92.70" y1="284.10" x2="92.70" y2="285.70" stroke="#555" stroke-width="0.7" />
<line x1="94.16" y1="284.10" x2="94.16" y2="285.70" stroke="#555" stroke-width="0.7" />
<line x1="95.45" y1="284.10" x2="95.45" y2="285.70" stroke="#555" stroke-width="0.7" />
<line x1="104.01" y1="284.10" x2="104.01" y2="285.70" stroke="#555" stroke-width="0.7" />
<line x1="108.34" y1="284.10" x2="108.34" y2="285.70" stroke="#555" stroke-width="0.7" />
<line x1="111.41" y1="284.10" x2="111.41" y2="285.70" stroke="#555" stroke-width="0.7" />
<line x1="113.79" y1="284.10" x2="113.79" y2="285.70" stroke="#555" stroke-width="0.7" />
<line x1="115.74" y1="284.10" x2="115.74" y2="285.70" stroke="#555" stroke-width="0.7" />
<line x1="117.39" y1="284.10" x2="117.39" y2="285.70" stroke="#555" stroke-width="0.7" />
<line x1="118.82" y1="284.10" x2="118.82" y2="285.70" stroke="#555" stroke-width="0.7" />
<line x1="120.07" y1="284.10" x2="120.07" y2="285.70" stroke="#555" stroke-width="0.7" />
<line x1="128.67" y1="284.10" x2="128.67" y2="285.70" stroke="#555" stroke-width="0.7" />
<line x1="133.03" y1="284.10" x2="133.03" y2="285.70" stroke="#555" stroke-width="0.7" />
<line x1="136.13" y1="284.10" x2="136.13" y2="285.70" stroke="#555" stroke-width="0.7" />
<line x1="138.53" y1="284.10" x2="138.53" y2="285.70" stroke="#555" stroke-width="0.7" />
<line x1="140.50" y1="284.10" x2="140.50" y2="285.70" stroke="#555" stroke-width="0.7" />
<line x1="142.16" y1="284.10" x2="142.16" y2="285.70" stroke="#555" stroke-width="0.7" />
<line x1="143.60" y1="284.10" x2="143.60" y2="285.70" stroke="#555" stroke-width="0.7" />
<line x1="144.87" y1="284.10" x2="144.87" y2="285.70" stroke="#555" stroke-width="0.7" />
<line x1="54.00" y1="284.10" x2="54.00" y2="285.70" stroke="#555" stroke-width="0.7" />
<line x1="60.00" y1="284.10" x2="60.00" y2="285.70" stroke="#555" stroke-width="0.7" />
<line x1="66.00" y1="284.10" x2="66.00" y2="285.70" stroke="#555" stroke-width="0.7" />
<line x1="44.00" y1="284.10" x2="44.00" y2="285.70" stroke="#555" stroke-width="0.7" />
<text x="49.00" y="295.60" font-size="6.6" text-anchor="middle" fill="#333" stroke="#333" stroke-width="0.12" >0</text>
<text x="71.30" y="295.60" font-size="6.6" text-anchor="middle" fill="#333" stroke="#333" stroke-width="0.12">10<tspan font-size="3.70" dy="-3.63">4</tspan></text>
<text x="97.20" y="295.60" font-size="6.6" text-anchor="middle" fill="#333" stroke="#333" stroke-width="0.12">10<tspan font-size="3.70" dy="-3.63">5</tspan></text>
<text x="121.60" y="295.60" font-size="6.6" text-anchor="middle" fill="#333" stroke="#333" stroke-width="0.12" >10</text>
<text x="145.10" y="295.60" font-size="6.6" text-anchor="middle" fill="#333" stroke="#333" stroke-width="0.12">10<tspan font-size="3.70" dy="-3.63">7</tspan></text>
<text x="0" y="0" font-size="9.7" text-anchor="middle" fill="#1a1a1a" stroke="#1a1a1a" stroke-width="0.42" textLength="82.50" lengthAdjust="spacing" transform="translate(21.50 231.50) rotate(-90) scale(0.6 1)">CD38/B525-FITC</text>
<text x="0" y="0" font-size="9.7" text-anchor="middle" fill="#1a1a1a" stroke="#1a1a1a" stroke-width="0.42" textLength="60.50" lengthAdjust="spacing" transform="translate(94.15 308.50) scale(0.6 1)">CD138/V780</text>
<text x="94.00" y="172.00" font-size="6.8" text-anchor="middle" fill="#333" stroke="#333" stroke-width="0.12" textLength="33" lengthAdjust="spacingAndGlyphs" >[Live Cells]</text>
<rect x="43.50" y="199.60" width="45.00" height="7.90" fill="#fff" stroke="#aaa" stroke-width="0.8" rx="1"/>
<text x="65.75" y="206.00" font-size="6.3" text-anchor="middle" fill="#222" stroke="#222" stroke-width="0.12" textLength="42.5" lengthAdjust="spacingAndGlyphs" >CD38+ CD138–</text>
<rect x="103.50" y="218.60" width="44.30" height="9.80" fill="#fff" stroke="#aaa" stroke-width="0.8" rx="1"/>
<text x="125.50" y="226.30" font-size="6.3" text-anchor="middle" fill="#222" stroke="#222" stroke-width="0.12" textLength="43" lengthAdjust="spacingAndGlyphs" >CD38+ CD138+</text>
<rect x="73.50" y="258.20" width="43.00" height="10.20" fill="#fff" stroke="#aaa" stroke-width="0.8" rx="1"/>
<text x="94.75" y="266.00" font-size="6.3" text-anchor="middle" fill="#222" stroke="#222" stroke-width="0.12" textLength="39.5" lengthAdjust="spacingAndGlyphs" >CD38– CD138–</text>
<path d="M220,213.2 L220.10,212.90 L220.57,212.86 L221.17,212.82 L221.87,212.77 L222.65,212.72 L223.50,212.66 L224.40,212.59 L225.34,212.52 L226.29,212.45 L227.25,212.37 L228.18,212.28 L229.08,212.19 L229.92,212.10 L230.70,212.00 L231.64,211.87 L232.54,211.73 L233.41,211.58 L234.26,211.42 L235.09,211.26 L235.91,211.08 L236.72,210.90 L237.54,210.71 L238.36,210.51 L239.20,210.30 L240.05,210.09 L240.92,209.88 L241.79,209.67 L242.66,209.45 L243.53,209.23 L244.39,208.98 L245.23,208.71 L246.05,208.41 L246.84,208.07 L247.60,207.70 L248.50,207.17 L249.37,206.59 L250.19,205.95 L250.99,205.28 L251.77,204.58 L252.52,203.86 L253.27,203.13 L254.00,202.40 L254.98,201.35 L255.97,200.20 L256.92,199.01 L257.81,197.88 L258.61,196.88 L259.30,196.10 L260.55,194.96 L261.40,194.60 L262.49,194.54 L263.50,194.60 L265.00,194.00 L265.79,194.67 L266.72,195.76 L267.70,197.20 L268.73,199.11 L269.82,201.36 L270.90,203.50 L271.86,205.42 L272.81,207.23 L274.00,208.80 L274.77,209.50 L275.64,210.16 L276.58,210.76 L277.53,211.29 L278.45,211.71 L279.30,212.00 L280.23,212.19 L281.10,212.22 L281.94,212.12 L282.76,211.87 L283.60,211.50 L284.45,211.02 L285.29,210.44 L286.12,209.71 L286.96,208.81 L287.80,207.70 L288.64,206.37 L289.48,204.83 L290.31,203.12 L291.15,201.26 L292.00,199.30 L292.87,197.05 L293.77,194.50 L294.66,191.90 L295.52,189.51 L296.30,187.60 L297.46,185.41 L298.48,184.06 L299.40,183.40 L300.50,183.53 L301.60,185.50 L302.56,188.37 L303.63,192.18 L304.70,196.10 L305.76,200.16 L306.83,204.34 L307.90,207.70 L308.63,209.37 L309.31,210.51 L310.08,211.33 L311.10,212.00 L311.83,212.32 L312.64,212.55 L313.51,212.70 L314.45,212.80 L315.41,212.87 L316.40,212.93 L317.40,213.00 L318.23,213.06 L319.15,213.10 L320.12,213.13 L321.11,213.15 L322.07,213.17 L322.98,213.18 L323.80,213.18 L324.48,213.19 L325.00,213.20 L325,213.2 Z" fill="#dcdde0" stroke="none"/>
<path d="M220,213.2 L220.10,212.90 L220.57,212.86 L221.17,212.82 L221.87,212.77 L222.65,212.72 L223.50,212.66 L224.40,212.59 L225.34,212.52 L226.29,212.45 L227.25,212.37 L228.18,212.28 L229.08,212.19 L229.92,212.10 L230.70,212.00 L231.64,211.87 L232.54,211.73 L233.41,211.58 L234.26,211.42 L235.09,211.26 L235.91,211.08 L236.72,210.90 L237.54,210.71 L238.36,210.51 L239.20,210.30 L240.05,210.09 L240.92,209.88 L241.79,209.67 L242.66,209.45 L243.53,209.23 L244.39,208.98 L245.23,208.71 L246.05,208.41 L246.84,208.07 L247.60,207.70 L248.50,207.17 L249.37,206.59 L250.19,205.95 L250.99,205.28 L251.77,204.58 L252.52,203.86 L253.27,203.13 L254.00,202.40 L254.98,201.35 L255.97,200.20 L256.92,199.01 L257.81,197.88 L258.61,196.88 L259.30,196.10 L260.55,194.96 L261.40,194.60 L262.49,194.54 L263.50,194.60 L265.00,194.00 L265.79,194.67 L266.72,195.76 L267.70,197.20 L268.73,199.11 L269.82,201.36 L270.90,203.50 L271.86,205.42 L272.81,207.23 L274.00,208.80 L274.77,209.50 L275.64,210.16 L276.58,210.76 L277.53,211.29 L278.45,211.71 L279.30,212.00 L280.23,212.19 L281.10,212.22 L281.94,212.12 L282.76,211.87 L283.60,211.50 L284.45,211.02 L285.29,210.44 L286.12,209.71 L286.96,208.81 L287.80,207.70 L288.64,206.37 L289.48,204.83 L290.31,203.12 L291.15,201.26 L292.00,199.30 L292.87,197.05 L293.77,194.50 L294.66,191.90 L295.52,189.51 L296.30,187.60 L297.46,185.41 L298.48,184.06 L299.40,183.40 L300.50,183.53 L301.60,185.50 L302.56,188.37 L303.63,192.18 L304.70,196.10 L305.76,200.16 L306.83,204.34 L307.90,207.70 L308.63,209.37 L309.31,210.51 L310.08,211.33 L311.10,212.00 L311.83,212.32 L312.64,212.55 L313.51,212.70 L314.45,212.80 L315.41,212.87 L316.40,212.93 L317.40,213.00 L318.23,213.06 L319.15,213.10 L320.12,213.13 L321.11,213.15 L322.07,213.17 L322.98,213.18 L323.80,213.18 L324.48,213.19 L325.00,213.20 L325,213.2" fill="none" stroke="#3a3a3a" stroke-width="0.95" stroke-linejoin="round"/>
<path d="M220,249.3 L220.00,249.30 L220.43,249.30 L220.92,249.30 L221.44,249.30 L222.02,249.30 L222.64,249.29 L223.30,249.29 L223.99,249.29 L224.73,249.29 L225.49,249.29 L226.29,249.29 L227.11,249.29 L227.97,249.28 L228.84,249.28 L229.74,249.28 L230.66,249.28 L231.60,249.28 L232.55,249.28 L233.51,249.28 L234.49,249.27 L235.47,249.27 L236.46,249.27 L237.45,249.27 L238.45,249.27 L239.44,249.26 L240.43,249.26 L241.41,249.26 L242.38,249.26 L243.35,249.25 L244.30,249.25 L245.24,249.25 L246.16,249.24 L247.06,249.24 L247.94,249.24 L248.79,249.24 L249.62,249.23 L250.41,249.23 L251.18,249.23 L251.92,249.22 L252.61,249.22 L253.27,249.21 L253.89,249.21 L254.47,249.20 L255.00,249.20 L256.95,249.18 L258.47,249.16 L259.64,249.14 L260.52,249.11 L261.18,249.09 L261.70,249.05 L262.14,249.02 L262.57,248.97 L263.07,248.93 L263.70,248.88 L264.68,248.82 L265.59,248.79 L266.42,248.68 L267.21,248.59 L267.95,248.48 L268.68,248.37 L269.40,248.17 L270.36,247.92 L271.26,247.39 L272.11,246.98 L272.95,246.58 L273.80,246.17 L274.68,245.28 L275.56,244.57 L276.44,244.46 L277.29,243.41 L278.10,243.17 L279.05,242.86 L279.94,242.31 L280.82,241.51 L281.70,241.05 L282.62,241.54 L283.54,240.72 L284.45,241.06 L285.30,240.06 L286.37,239.99 L287.37,238.80 L288.20,238.22 L289.60,238.09 L290.40,238.20 L291.80,236.83 L292.66,236.25 L293.68,234.70 L294.70,234.36 L295.70,233.03 L296.69,231.56 L297.60,230.07 L298.74,228.49 L299.70,226.85 L301.20,224.96 L302.60,227.52 L303.65,229.71 L304.80,233.32 L305.91,237.29 L307.00,240.34 L308.01,243.03 L309.10,245.23 L309.93,246.37 L310.85,247.23 L312.00,247.88 L312.68,248.11 L313.40,248.38 L314.18,248.55 L315.03,248.66 L315.97,248.81 L317.00,248.91 L317.71,248.94 L318.54,249.01 L319.43,249.05 L320.37,249.10 L321.31,249.11 L322.23,249.13 L323.09,249.16 L323.86,249.17 L324.51,249.18 L325.00,249.21 L325,249.3 Z" fill="#e3879a" stroke="none"/>
<path d="M220,249.3 L220.00,249.30 L220.43,249.30 L220.92,249.30 L221.44,249.30 L222.02,249.30 L222.64,249.29 L223.30,249.29 L223.99,249.29 L224.73,249.29 L225.49,249.29 L226.29,249.29 L227.11,249.29 L227.97,249.28 L228.84,249.28 L229.74,249.28 L230.66,249.28 L231.60,249.28 L232.55,249.28 L233.51,249.28 L234.49,249.27 L235.47,249.27 L236.46,249.27 L237.45,249.27 L238.45,249.27 L239.44,249.26 L240.43,249.26 L241.41,249.26 L242.38,249.26 L243.35,249.25 L244.30,249.25 L245.24,249.25 L246.16,249.24 L247.06,249.24 L247.94,249.24 L248.79,249.24 L249.62,249.23 L250.41,249.23 L251.18,249.23 L251.92,249.22 L252.61,249.22 L253.27,249.21 L253.89,249.21 L254.47,249.20 L255.00,249.20 L256.95,249.18 L258.47,249.16 L259.64,249.14 L260.52,249.11 L261.18,249.09 L261.70,249.05 L262.14,249.02 L262.57,248.97 L263.07,248.93 L263.70,248.88 L264.68,248.82 L265.59,248.79 L266.42,248.68 L267.21,248.59 L267.95,248.48 L268.68,248.37 L269.40,248.17 L270.36,247.92 L271.26,247.39 L272.11,246.98 L272.95,246.58 L273.80,246.17 L274.68,245.28 L275.56,244.57 L276.44,244.46 L277.29,243.41 L278.10,243.17 L279.05,242.86 L279.94,242.31 L280.82,241.51 L281.70,241.05 L282.62,241.54 L283.54,240.72 L284.45,241.06 L285.30,240.06 L286.37,239.99 L287.37,238.80 L288.20,238.22 L289.60,238.09 L290.40,238.20 L291.80,236.83 L292.66,236.25 L293.68,234.70 L294.70,234.36 L295.70,233.03 L296.69,231.56 L297.60,230.07 L298.74,228.49 L299.70,226.85 L301.20,224.96 L302.60,227.52 L303.65,229.71 L304.80,233.32 L305.91,237.29 L307.00,240.34 L308.01,243.03 L309.10,245.23 L309.93,246.37 L310.85,247.23 L312.00,247.88 L312.68,248.11 L313.40,248.38 L314.18,248.55 L315.03,248.66 L315.97,248.81 L317.00,248.91 L317.71,248.94 L318.54,249.01 L319.43,249.05 L320.37,249.10 L321.31,249.11 L322.23,249.13 L323.09,249.16 L323.86,249.17 L324.51,249.18 L325.00,249.21 L325,249.3" fill="none" stroke="#c0103a" stroke-width="0.95" stroke-linejoin="round"/>
<path d="M220,285.2 L220.00,285.10 L220.42,285.10 L220.86,285.10 L221.33,285.10 L221.84,285.11 L222.37,285.10 L222.92,285.10 L223.50,285.10 L224.11,285.10 L224.74,285.11 L225.40,285.11 L226.08,285.11 L226.78,285.11 L227.50,285.12 L228.24,285.12 L229.00,285.11 L229.78,285.11 L230.57,285.12 L231.39,285.12 L232.22,285.13 L233.06,285.13 L233.92,285.13 L234.80,285.13 L235.68,285.13 L236.58,285.13 L237.49,285.14 L238.41,285.14 L239.35,285.14 L240.29,285.14 L241.23,285.15 L242.19,285.15 L243.15,285.15 L244.12,285.15 L245.10,285.15 L246.07,285.16 L247.06,285.16 L248.04,285.16 L249.03,285.16 L250.01,285.16 L251.00,285.16 L251.99,285.17 L252.97,285.17 L253.96,285.17 L254.94,285.17 L255.91,285.17 L256.89,285.17 L257.85,285.17 L258.81,285.17 L259.77,285.18 L260.71,285.17 L261.65,285.17 L262.58,285.17 L263.50,285.17 L264.41,285.17 L265.30,285.17 L266.19,285.17 L267.06,285.17 L267.91,285.17 L268.75,285.17 L269.58,285.17 L270.39,285.16 L271.18,285.16 L271.95,285.16 L272.71,285.16 L273.44,285.15 L274.16,285.15 L274.85,285.15 L275.52,285.14 L276.17,285.14 L276.79,285.13 L277.39,285.13 L277.97,285.13 L278.52,285.12 L279.04,285.11 L279.53,285.11 L280.00,285.10 L283.17,285.04 L285.30,284.98 L286.59,284.92 L287.22,284.83 L287.41,284.78 L287.36,284.65 L287.26,284.46 L287.30,284.29 L287.70,284.11 L288.95,283.43 L289.90,282.78 L290.70,281.80 L291.50,280.91 L292.57,279.03 L293.54,276.45 L294.40,274.44 L295.41,270.60 L296.30,266.75 L297.33,265.31 L298.30,264.09 L299.70,262.05 L300.61,262.37 L301.60,262.66 L302.60,264.10 L303.60,265.65 L304.53,268.51 L305.50,270.62 L306.67,274.74 L307.90,278.16 L308.66,279.90 L309.43,281.26 L310.30,282.32 L311.05,282.82 L311.85,283.45 L312.73,283.84 L313.70,284.10 L314.40,284.32 L315.13,284.39 L315.91,284.58 L316.72,284.64 L317.59,284.70 L318.50,284.80 L319.28,284.84 L320.16,284.91 L321.10,284.96 L322.05,285.00 L322.96,285.04 L323.79,285.06 L324.49,285.08 L325.00,285.10 L325,285.2 Z" fill="#8aaed6" stroke="none"/>
<path d="M220,285.2 L220.00,285.10 L220.42,285.10 L220.86,285.10 L221.33,285.10 L221.84,285.11 L222.37,285.10 L222.92,285.10 L223.50,285.10 L224.11,285.10 L224.74,285.11 L225.40,285.11 L226.08,285.11 L226.78,285.11 L227.50,285.12 L228.24,285.12 L229.00,285.11 L229.78,285.11 L230.57,285.12 L231.39,285.12 L232.22,285.13 L233.06,285.13 L233.92,285.13 L234.80,285.13 L235.68,285.13 L236.58,285.13 L237.49,285.14 L238.41,285.14 L239.35,285.14 L240.29,285.14 L241.23,285.15 L242.19,285.15 L243.15,285.15 L244.12,285.15 L245.10,285.15 L246.07,285.16 L247.06,285.16 L248.04,285.16 L249.03,285.16 L250.01,285.16 L251.00,285.16 L251.99,285.17 L252.97,285.17 L253.96,285.17 L254.94,285.17 L255.91,285.17 L256.89,285.17 L257.85,285.17 L258.81,285.17 L259.77,285.18 L260.71,285.17 L261.65,285.17 L262.58,285.17 L263.50,285.17 L264.41,285.17 L265.30,285.17 L266.19,285.17 L267.06,285.17 L267.91,285.17 L268.75,285.17 L269.58,285.17 L270.39,285.16 L271.18,285.16 L271.95,285.16 L272.71,285.16 L273.44,285.15 L274.16,285.15 L274.85,285.15 L275.52,285.14 L276.17,285.14 L276.79,285.13 L277.39,285.13 L277.97,285.13 L278.52,285.12 L279.04,285.11 L279.53,285.11 L280.00,285.10 L283.17,285.04 L285.30,284.98 L286.59,284.92 L287.22,284.83 L287.41,284.78 L287.36,284.65 L287.26,284.46 L287.30,284.29 L287.70,284.11 L288.95,283.43 L289.90,282.78 L290.70,281.80 L291.50,280.91 L292.57,279.03 L293.54,276.45 L294.40,274.44 L295.41,270.60 L296.30,266.75 L297.33,265.31 L298.30,264.09 L299.70,262.05 L300.61,262.37 L301.60,262.66 L302.60,264.10 L303.60,265.65 L304.53,268.51 L305.50,270.62 L306.67,274.74 L307.90,278.16 L308.66,279.90 L309.43,281.26 L310.30,282.32 L311.05,282.82 L311.85,283.45 L312.73,283.84 L313.70,284.10 L314.40,284.32 L315.13,284.39 L315.91,284.58 L316.72,284.64 L317.59,284.70 L318.50,284.80 L319.28,284.84 L320.16,284.91 L321.10,284.96 L322.05,285.00 L322.96,285.04 L323.79,285.06 L324.49,285.08 L325.00,285.10 L325,285.2" fill="none" stroke="#1d3f6a" stroke-width="0.95" stroke-linejoin="round"/>
<rect x="220.00" y="177.60" width="105.00" height="107.60" fill="none" stroke="#a4a4a4" stroke-width="1.1" />
<line x1="219.50" y1="285.20" x2="325.50" y2="285.20" stroke="#444" stroke-width="1.0" />
<line x1="219.40" y1="285.20" x2="219.40" y2="287.60" stroke="#333" stroke-width="0.9" />
<line x1="245.80" y1="285.20" x2="245.80" y2="287.60" stroke="#333" stroke-width="0.9" />
<line x1="272.20" y1="285.20" x2="272.20" y2="287.60" stroke="#333" stroke-width="0.9" />
<line x1="298.30" y1="285.20" x2="298.30" y2="287.60" stroke="#333" stroke-width="0.9" />
<line x1="323.90" y1="285.20" x2="323.90" y2="287.60" stroke="#333" stroke-width="0.9" />
<line x1="227.35" y1="285.20" x2="227.35" y2="286.80" stroke="#555" stroke-width="0.7" />
<line x1="232.00" y1="285.20" x2="232.00" y2="286.80" stroke="#555" stroke-width="0.7" />
<line x1="235.29" y1="285.20" x2="235.29" y2="286.80" stroke="#555" stroke-width="0.7" />
<line x1="237.85" y1="285.20" x2="237.85" y2="286.80" stroke="#555" stroke-width="0.7" />
<line x1="239.94" y1="285.20" x2="239.94" y2="286.80" stroke="#555" stroke-width="0.7" />
<line x1="241.71" y1="285.20" x2="241.71" y2="286.80" stroke="#555" stroke-width="0.7" />
<line x1="243.24" y1="285.20" x2="243.24" y2="286.80" stroke="#555" stroke-width="0.7" />
<line x1="244.59" y1="285.20" x2="244.59" y2="286.80" stroke="#555" stroke-width="0.7" />
<line x1="253.75" y1="285.20" x2="253.75" y2="286.80" stroke="#555" stroke-width="0.7" />
<line x1="258.40" y1="285.20" x2="258.40" y2="286.80" stroke="#555" stroke-width="0.7" />
<line x1="261.69" y1="285.20" x2="261.69" y2="286.80" stroke="#555" stroke-width="0.7" />
<line x1="264.25" y1="285.20" x2="264.25" y2="286.80" stroke="#555" stroke-width="0.7" />
<line x1="266.34" y1="285.20" x2="266.34" y2="286.80" stroke="#555" stroke-width="0.7" />
<line x1="268.11" y1="285.20" x2="268.11" y2="286.80" stroke="#555" stroke-width="0.7" />
<line x1="269.64" y1="285.20" x2="269.64" y2="286.80" stroke="#555" stroke-width="0.7" />
<line x1="270.99" y1="285.20" x2="270.99" y2="286.80" stroke="#555" stroke-width="0.7" />
<line x1="280.06" y1="285.20" x2="280.06" y2="286.80" stroke="#555" stroke-width="0.7" />
<line x1="284.65" y1="285.20" x2="284.65" y2="286.80" stroke="#555" stroke-width="0.7" />
<line x1="287.91" y1="285.20" x2="287.91" y2="286.80" stroke="#555" stroke-width="0.7" />
<line x1="290.44" y1="285.20" x2="290.44" y2="286.80" stroke="#555" stroke-width="0.7" />
<line x1="292.51" y1="285.20" x2="292.51" y2="286.80" stroke="#555" stroke-width="0.7" />
<line x1="294.26" y1="285.20" x2="294.26" y2="286.80" stroke="#555" stroke-width="0.7" />
<line x1="295.77" y1="285.20" x2="295.77" y2="286.80" stroke="#555" stroke-width="0.7" />
<line x1="297.11" y1="285.20" x2="297.11" y2="286.80" stroke="#555" stroke-width="0.7" />
<line x1="306.01" y1="285.20" x2="306.01" y2="286.80" stroke="#555" stroke-width="0.7" />
<line x1="310.51" y1="285.20" x2="310.51" y2="286.80" stroke="#555" stroke-width="0.7" />
<line x1="313.71" y1="285.20" x2="313.71" y2="286.80" stroke="#555" stroke-width="0.7" />
<line x1="316.19" y1="285.20" x2="316.19" y2="286.80" stroke="#555" stroke-width="0.7" />
<line x1="318.22" y1="285.20" x2="318.22" y2="286.80" stroke="#555" stroke-width="0.7" />
<line x1="319.93" y1="285.20" x2="319.93" y2="286.80" stroke="#555" stroke-width="0.7" />
<line x1="321.42" y1="285.20" x2="321.42" y2="286.80" stroke="#555" stroke-width="0.7" />
<line x1="322.73" y1="285.20" x2="322.73" y2="286.80" stroke="#555" stroke-width="0.7" />
<text x="220.10" y="295.60" font-size="7" text-anchor="middle" fill="#333" stroke="#333" stroke-width="0.12">10<tspan font-size="3.92" dy="-3.85">2</tspan></text>
<text x="246.50" y="295.60" font-size="7" text-anchor="middle" fill="#333" stroke="#333" stroke-width="0.12">10<tspan font-size="3.92" dy="-3.85">3</tspan></text>
<text x="272.90" y="295.60" font-size="7" text-anchor="middle" fill="#333" stroke="#333" stroke-width="0.12">10<tspan font-size="3.92" dy="-3.85">4</tspan></text>
<text x="299.00" y="295.60" font-size="7" text-anchor="middle" fill="#333" stroke="#333" stroke-width="0.12">10<tspan font-size="3.92" dy="-3.85">5</tspan></text>
<text x="324.60" y="295.60" font-size="7" text-anchor="middle" fill="#333" stroke="#333" stroke-width="0.12">10<tspan font-size="3.92" dy="-3.85">6</tspan></text>
<text x="0" y="0" font-size="9.7" text-anchor="middle" fill="#1a1a1a" stroke="#1a1a1a" stroke-width="0.42" textLength="30.00" lengthAdjust="spacing" transform="translate(213.00 233.00) rotate(-90) scale(0.6 1)">%Max</text>
<text x="0" y="0" font-size="9.7" text-anchor="middle" fill="#1a1a1a" stroke="#1a1a1a" stroke-width="0.42" textLength="42.83" lengthAdjust="spacing" transform="translate(273.65 307.90) scale(0.6 1)">3D12/PE</text>
<text x="272.20" y="172.20" font-size="6.8" text-anchor="middle" fill="#333" stroke="#333" stroke-width="0.12" textLength="26.8" lengthAdjust="spacingAndGlyphs" >Patient 4</text>
<rect x="241.40" y="315.00" width="6.20" height="6.20" fill="#a8acb2" stroke="#555" stroke-width="0.8" />
<text x="251.20" y="320.40" font-size="6.6" text-anchor="start" fill="#333" stroke="#333" stroke-width="0.12" textLength="51" lengthAdjust="spacingAndGlyphs" >CD38– CD138–</text>
<rect x="241.40" y="325.80" width="6.20" height="6.20" fill="#e8607e" stroke="#a01030" stroke-width="0.8" />
<text x="251.20" y="331.20" font-size="6.6" text-anchor="start" fill="#333" stroke="#333" stroke-width="0.12" textLength="51" lengthAdjust="spacingAndGlyphs" >CD38+ CD138–</text>
<rect x="241.40" y="336.10" width="6.20" height="6.20" fill="#6e9ed0" stroke="#204c78" stroke-width="0.8" />
<text x="251.20" y="341.50" font-size="6.6" text-anchor="start" fill="#333" stroke="#333" stroke-width="0.12" textLength="51" lengthAdjust="spacingAndGlyphs" >CD38+ CD138+</text>
<path d="M404.4,213.8 L404.40,211.70 L404.94,211.53 L405.69,211.29 L406.58,211.01 L407.54,210.71 L408.50,210.40 L409.32,210.15 L410.18,209.91 L411.08,209.66 L412.00,209.38 L412.91,209.06 L413.80,208.70 L414.69,208.28 L415.59,207.81 L416.49,207.31 L417.37,206.79 L418.21,206.24 L419.00,205.70 L420.08,204.86 L421.07,203.97 L422.00,203.07 L422.90,202.20 L423.77,201.39 L424.59,200.62 L425.39,199.81 L426.20,198.90 L427.03,197.83 L427.86,196.64 L428.68,195.43 L429.50,194.30 L430.60,192.92 L431.68,191.62 L432.70,190.40 L433.63,189.19 L434.50,188.06 L435.30,187.20 L436.30,186.62 L437.30,186.50 L438.10,186.44 L438.96,186.50 L439.90,186.90 L440.69,187.53 L441.55,188.39 L442.41,189.38 L443.20,190.40 L444.12,191.80 L444.96,193.33 L445.80,195.00 L446.64,196.82 L447.48,198.79 L448.40,200.90 L449.18,202.67 L450.01,204.59 L450.87,206.46 L451.70,208.10 L452.77,209.93 L453.83,211.46 L454.90,212.60 L455.52,213.12 L456.01,213.38 L456.77,213.50 L458.20,213.60 L458.72,213.63 L459.21,213.66 L459.69,213.68 L460.18,213.69 L460.70,213.70 L461.28,213.71 L461.92,213.71 L462.65,213.70 L463.49,213.70 L464.46,213.70 L465.57,213.69 L466.85,213.69 L468.32,213.69 L470.00,213.70 L470.55,213.70 L471.14,213.70 L471.77,213.71 L472.44,213.71 L473.14,213.71 L473.87,213.71 L474.63,213.72 L475.41,213.72 L476.23,213.72 L477.07,213.72 L477.93,213.73 L478.81,213.73 L479.71,213.73 L480.63,213.73 L481.56,213.74 L482.51,213.74 L483.47,213.74 L484.43,213.74 L485.41,213.75 L486.39,213.75 L487.37,213.75 L488.36,213.75 L489.34,213.76 L490.33,213.76 L491.31,213.76 L492.29,213.76 L493.25,213.76 L494.21,213.77 L495.16,213.77 L496.10,213.77 L497.02,213.77 L497.92,213.78 L498.80,213.78 L499.67,213.78 L500.51,213.78 L501.33,213.78 L502.12,213.79 L502.88,213.79 L503.62,213.79 L504.32,213.79 L504.99,213.79 L505.63,213.79 L506.22,213.80 L506.78,213.80 L507.30,213.80 L507.77,213.80 L508.20,213.80 L508.2,213.8 Z" fill="#caced3" stroke="none"/>
<path d="M404.4,213.8 L404.40,211.70 L404.94,211.53 L405.69,211.29 L406.58,211.01 L407.54,210.71 L408.50,210.40 L409.32,210.15 L410.18,209.91 L411.08,209.66 L412.00,209.38 L412.91,209.06 L413.80,208.70 L414.69,208.28 L415.59,207.81 L416.49,207.31 L417.37,206.79 L418.21,206.24 L419.00,205.70 L420.08,204.86 L421.07,203.97 L422.00,203.07 L422.90,202.20 L423.77,201.39 L424.59,200.62 L425.39,199.81 L426.20,198.90 L427.03,197.83 L427.86,196.64 L428.68,195.43 L429.50,194.30 L430.60,192.92 L431.68,191.62 L432.70,190.40 L433.63,189.19 L434.50,188.06 L435.30,187.20 L436.30,186.62 L437.30,186.50 L438.10,186.44 L438.96,186.50 L439.90,186.90 L440.69,187.53 L441.55,188.39 L442.41,189.38 L443.20,190.40 L444.12,191.80 L444.96,193.33 L445.80,195.00 L446.64,196.82 L447.48,198.79 L448.40,200.90 L449.18,202.67 L450.01,204.59 L450.87,206.46 L451.70,208.10 L452.77,209.93 L453.83,211.46 L454.90,212.60 L455.52,213.12 L456.01,213.38 L456.77,213.50 L458.20,213.60 L458.72,213.63 L459.21,213.66 L459.69,213.68 L460.18,213.69 L460.70,213.70 L461.28,213.71 L461.92,213.71 L462.65,213.70 L463.49,213.70 L464.46,213.70 L465.57,213.69 L466.85,213.69 L468.32,213.69 L470.00,213.70 L470.55,213.70 L471.14,213.70 L471.77,213.71 L472.44,213.71 L473.14,213.71 L473.87,213.71 L474.63,213.72 L475.41,213.72 L476.23,213.72 L477.07,213.72 L477.93,213.73 L478.81,213.73 L479.71,213.73 L480.63,213.73 L481.56,213.74 L482.51,213.74 L483.47,213.74 L484.43,213.74 L485.41,213.75 L486.39,213.75 L487.37,213.75 L488.36,213.75 L489.34,213.76 L490.33,213.76 L491.31,213.76 L492.29,213.76 L493.25,213.76 L494.21,213.77 L495.16,213.77 L496.10,213.77 L497.02,213.77 L497.92,213.78 L498.80,213.78 L499.67,213.78 L500.51,213.78 L501.33,213.78 L502.12,213.79 L502.88,213.79 L503.62,213.79 L504.32,213.79 L504.99,213.79 L505.63,213.79 L506.22,213.80 L506.78,213.80 L507.30,213.80 L507.77,213.80 L508.20,213.80 L508.2,213.8" fill="none" stroke="#3a3a3a" stroke-width="0.95" stroke-linejoin="round"/>
<path d="M404.4,249 L404.40,248.29 L404.97,248.13 L405.76,247.93 L406.69,247.66 L407.71,247.44 L408.77,247.14 L409.80,247.11 L410.57,246.85 L411.37,246.56 L412.19,246.49 L413.03,246.25 L413.88,246.35 L414.73,246.06 L415.57,245.98 L416.40,245.68 L417.24,245.48 L418.09,245.53 L418.96,245.25 L419.82,245.01 L420.66,244.48 L421.46,244.33 L422.21,244.43 L422.90,243.82 L424.07,243.73 L425.05,242.87 L425.93,242.69 L426.80,242.23 L427.67,240.81 L428.49,240.78 L429.29,240.13 L430.10,238.63 L430.94,238.22 L431.79,238.45 L432.62,237.17 L433.40,237.15 L434.32,236.24 L435.16,235.99 L436.00,234.07 L436.89,232.90 L437.78,230.87 L438.60,229.53 L439.64,228.84 L440.60,227.97 L441.55,228.36 L442.50,228.53 L443.46,227.33 L444.50,225.94 L445.30,225.73 L446.16,227.06 L447.10,227.19 L447.88,228.47 L448.71,229.55 L449.57,230.17 L450.40,232.02 L451.20,233.99 L452.00,235.84 L452.80,237.66 L453.60,240.29 L454.42,241.06 L455.24,243.41 L456.07,244.37 L456.90,245.56 L457.70,246.76 L458.47,247.27 L459.29,247.88 L460.20,248.29 L460.40,248.60 L460.04,248.76 L460.03,248.87 L461.28,248.93 L464.70,249.00 L465.17,249.00 L465.67,249.00 L466.21,249.00 L466.79,249.00 L467.41,249.00 L468.06,249.00 L468.74,249.00 L469.45,249.00 L470.20,249.00 L470.97,249.00 L471.76,249.00 L472.58,249.00 L473.42,249.00 L474.29,249.00 L475.17,249.00 L476.07,249.00 L476.99,249.00 L477.92,249.00 L478.87,249.00 L479.83,249.00 L480.79,249.00 L481.77,249.00 L482.76,249.00 L483.75,249.00 L484.74,249.00 L485.73,249.00 L486.73,249.00 L487.73,249.00 L488.72,249.00 L489.71,249.00 L490.69,249.00 L491.67,249.00 L492.64,249.00 L493.60,249.00 L494.54,249.00 L495.48,249.00 L496.40,249.00 L497.30,249.00 L498.18,249.00 L499.05,249.00 L499.89,249.00 L500.71,249.00 L501.50,249.00 L502.27,249.00 L503.02,249.00 L503.73,249.00 L504.41,249.00 L505.06,249.00 L505.68,249.00 L506.26,249.00 L506.80,249.00 L507.31,249.00 L507.78,249.00 L508.20,249.00 L508.2,249 Z" fill="#e3879a" stroke="none"/>
<path d="M404.4,249 L404.40,248.29 L404.97,248.13 L405.76,247.93 L406.69,247.66 L407.71,247.44 L408.77,247.14 L409.80,247.11 L410.57,246.85 L411.37,246.56 L412.19,246.49 L413.03,246.25 L413.88,246.35 L414.73,246.06 L415.57,245.98 L416.40,245.68 L417.24,245.48 L418.09,245.53 L418.96,245.25 L419.82,245.01 L420.66,244.48 L421.46,244.33 L422.21,244.43 L422.90,243.82 L424.07,243.73 L425.05,242.87 L425.93,242.69 L426.80,242.23 L427.67,240.81 L428.49,240.78 L429.29,240.13 L430.10,238.63 L430.94,238.22 L431.79,238.45 L432.62,237.17 L433.40,237.15 L434.32,236.24 L435.16,235.99 L436.00,234.07 L436.89,232.90 L437.78,230.87 L438.60,229.53 L439.64,228.84 L440.60,227.97 L441.55,228.36 L442.50,228.53 L443.46,227.33 L444.50,225.94 L445.30,225.73 L446.16,227.06 L447.10,227.19 L447.88,228.47 L448.71,229.55 L449.57,230.17 L450.40,232.02 L451.20,233.99 L452.00,235.84 L452.80,237.66 L453.60,240.29 L454.42,241.06 L455.24,243.41 L456.07,244.37 L456.90,245.56 L457.70,246.76 L458.47,247.27 L459.29,247.88 L460.20,248.29 L460.40,248.60 L460.04,248.76 L460.03,248.87 L461.28,248.93 L464.70,249.00 L465.17,249.00 L465.67,249.00 L466.21,249.00 L466.79,249.00 L467.41,249.00 L468.06,249.00 L468.74,249.00 L469.45,249.00 L470.20,249.00 L470.97,249.00 L471.76,249.00 L472.58,249.00 L473.42,249.00 L474.29,249.00 L475.17,249.00 L476.07,249.00 L476.99,249.00 L477.92,249.00 L478.87,249.00 L479.83,249.00 L480.79,249.00 L481.77,249.00 L482.76,249.00 L483.75,249.00 L484.74,249.00 L485.73,249.00 L486.73,249.00 L487.73,249.00 L488.72,249.00 L489.71,249.00 L490.69,249.00 L491.67,249.00 L492.64,249.00 L493.60,249.00 L494.54,249.00 L495.48,249.00 L496.40,249.00 L497.30,249.00 L498.18,249.00 L499.05,249.00 L499.89,249.00 L500.71,249.00 L501.50,249.00 L502.27,249.00 L503.02,249.00 L503.73,249.00 L504.41,249.00 L505.06,249.00 L505.68,249.00 L506.26,249.00 L506.80,249.00 L507.31,249.00 L507.78,249.00 L508.20,249.00 L508.2,249" fill="none" stroke="#c0103a" stroke-width="0.95" stroke-linejoin="round"/>
<path d="M404.4,284.5 L404.40,284.29 L404.82,284.29 L405.27,284.29 L405.74,284.30 L406.25,284.30 L406.78,284.28 L407.34,284.28 L407.92,284.27 L408.53,284.28 L409.16,284.26 L409.82,284.27 L410.50,284.26 L411.20,284.25 L411.92,284.26 L412.66,284.25 L413.42,284.25 L414.20,284.26 L415.00,284.24 L415.82,284.23 L416.65,284.24 L417.50,284.22 L418.36,284.22 L419.24,284.21 L420.13,284.23 L421.03,284.23 L421.95,284.20 L422.87,284.20 L423.81,284.21 L424.76,284.21 L425.71,284.21 L426.68,284.19 L427.65,284.19 L428.63,284.16 L429.61,284.17 L430.60,284.18 L431.59,284.16 L432.59,284.17 L433.59,284.14 L434.59,284.13 L435.60,284.15 L436.60,284.13 L437.61,284.13 L438.61,284.12 L439.61,284.10 L440.61,284.14 L441.61,284.12 L442.60,284.10 L443.59,284.11 L444.57,284.09 L445.55,284.11 L446.51,284.06 L447.48,284.07 L448.43,284.08 L449.37,284.05 L450.31,284.06 L451.23,284.06 L452.14,284.03 L453.04,284.05 L453.93,284.03 L454.80,283.99 L455.66,283.99 L456.50,284.02 L457.33,283.97 L458.14,284.00 L458.93,283.98 L459.70,283.93 L460.46,283.94 L461.20,283.95 L461.91,283.93 L462.60,283.92 L463.27,283.93 L463.92,283.86 L464.55,283.92 L465.15,283.88 L465.72,283.84 L466.27,283.86 L466.80,283.80 L467.29,283.85 L467.76,283.77 L468.20,283.77 L473.75,283.48 L472.57,283.02 L471.40,282.31 L472.23,281.26 L473.07,280.09 L473.91,278.89 L474.70,277.42 L475.69,274.83 L476.63,272.35 L477.50,270.03 L478.71,265.88 L479.70,263.39 L480.80,261.51 L482.20,262.37 L483.10,266.07 L484.10,270.08 L485.19,273.57 L486.30,276.23 L487.24,278.12 L488.40,279.26 L489.24,279.61 L490.21,279.74 L491.25,280.45 L492.30,280.74 L493.15,280.87 L494.02,281.32 L494.92,281.77 L495.81,282.02 L496.70,282.31 L497.56,282.64 L498.41,282.82 L499.27,283.04 L500.16,283.16 L501.10,283.42 L501.98,283.54 L502.96,283.67 L503.97,283.83 L504.94,284.00 L505.80,284.11 L506.50,284.21 L507.69,284.30 L508.20,284.30 L508.2,284.5 Z" fill="#8aaed6" stroke="none"/>
<path d="M404.4,284.5 L404.40,284.29 L404.82,284.29 L405.27,284.29 L405.74,284.30 L406.25,284.30 L406.78,284.28 L407.34,284.28 L407.92,284.27 L408.53,284.28 L409.16,284.26 L409.82,284.27 L410.50,284.26 L411.20,284.25 L411.92,284.26 L412.66,284.25 L413.42,284.25 L414.20,284.26 L415.00,284.24 L415.82,284.23 L416.65,284.24 L417.50,284.22 L418.36,284.22 L419.24,284.21 L420.13,284.23 L421.03,284.23 L421.95,284.20 L422.87,284.20 L423.81,284.21 L424.76,284.21 L425.71,284.21 L426.68,284.19 L427.65,284.19 L428.63,284.16 L429.61,284.17 L430.60,284.18 L431.59,284.16 L432.59,284.17 L433.59,284.14 L434.59,284.13 L435.60,284.15 L436.60,284.13 L437.61,284.13 L438.61,284.12 L439.61,284.10 L440.61,284.14 L441.61,284.12 L442.60,284.10 L443.59,284.11 L444.57,284.09 L445.55,284.11 L446.51,284.06 L447.48,284.07 L448.43,284.08 L449.37,284.05 L450.31,284.06 L451.23,284.06 L452.14,284.03 L453.04,284.05 L453.93,284.03 L454.80,283.99 L455.66,283.99 L456.50,284.02 L457.33,283.97 L458.14,284.00 L458.93,283.98 L459.70,283.93 L460.46,283.94 L461.20,283.95 L461.91,283.93 L462.60,283.92 L463.27,283.93 L463.92,283.86 L464.55,283.92 L465.15,283.88 L465.72,283.84 L466.27,283.86 L466.80,283.80 L467.29,283.85 L467.76,283.77 L468.20,283.77 L473.75,283.48 L472.57,283.02 L471.40,282.31 L472.23,281.26 L473.07,280.09 L473.91,278.89 L474.70,277.42 L475.69,274.83 L476.63,272.35 L477.50,270.03 L478.71,265.88 L479.70,263.39 L480.80,261.51 L482.20,262.37 L483.10,266.07 L484.10,270.08 L485.19,273.57 L486.30,276.23 L487.24,278.12 L488.40,279.26 L489.24,279.61 L490.21,279.74 L491.25,280.45 L492.30,280.74 L493.15,280.87 L494.02,281.32 L494.92,281.77 L495.81,282.02 L496.70,282.31 L497.56,282.64 L498.41,282.82 L499.27,283.04 L500.16,283.16 L501.10,283.42 L501.98,283.54 L502.96,283.67 L503.97,283.83 L504.94,284.00 L505.80,284.11 L506.50,284.21 L507.69,284.30 L508.20,284.30 L508.2,284.5" fill="none" stroke="#1d3f6a" stroke-width="0.95" stroke-linejoin="round"/>
<rect x="404.10" y="179.00" width="104.10" height="105.30" fill="none" stroke="#a4a4a4" stroke-width="1.1" />
<line x1="403.60" y1="284.30" x2="508.70" y2="284.30" stroke="#444" stroke-width="1.0" />
<line x1="406.00" y1="284.30" x2="406.00" y2="286.70" stroke="#333" stroke-width="0.9" />
<line x1="430.60" y1="284.30" x2="430.60" y2="286.70" stroke="#333" stroke-width="0.9" />
<line x1="455.70" y1="284.30" x2="455.70" y2="286.70" stroke="#333" stroke-width="0.9" />
<line x1="481.00" y1="284.30" x2="481.00" y2="286.70" stroke="#333" stroke-width="0.9" />
<line x1="505.60" y1="284.30" x2="505.60" y2="286.70" stroke="#333" stroke-width="0.9" />
<line x1="413.41" y1="284.30" x2="413.41" y2="285.90" stroke="#555" stroke-width="0.7" />
<line x1="417.74" y1="284.30" x2="417.74" y2="285.90" stroke="#555" stroke-width="0.7" />
<line x1="420.81" y1="284.30" x2="420.81" y2="285.90" stroke="#555" stroke-width="0.7" />
<line x1="423.19" y1="284.30" x2="423.19" y2="285.90" stroke="#555" stroke-width="0.7" />
<line x1="425.14" y1="284.30" x2="425.14" y2="285.90" stroke="#555" stroke-width="0.7" />
<line x1="426.79" y1="284.30" x2="426.79" y2="285.90" stroke="#555" stroke-width="0.7" />
<line x1="428.22" y1="284.30" x2="428.22" y2="285.90" stroke="#555" stroke-width="0.7" />
<line x1="429.47" y1="284.30" x2="429.47" y2="285.90" stroke="#555" stroke-width="0.7" />
<line x1="438.16" y1="284.30" x2="438.16" y2="285.90" stroke="#555" stroke-width="0.7" />
<line x1="442.58" y1="284.30" x2="442.58" y2="285.90" stroke="#555" stroke-width="0.7" />
<line x1="445.71" y1="284.30" x2="445.71" y2="285.90" stroke="#555" stroke-width="0.7" />
<line x1="448.14" y1="284.30" x2="448.14" y2="285.90" stroke="#555" stroke-width="0.7" />
<line x1="450.13" y1="284.30" x2="450.13" y2="285.90" stroke="#555" stroke-width="0.7" />
<line x1="451.81" y1="284.30" x2="451.81" y2="285.90" stroke="#555" stroke-width="0.7" />
<line x1="453.27" y1="284.30" x2="453.27" y2="285.90" stroke="#555" stroke-width="0.7" />
<line x1="454.55" y1="284.30" x2="454.55" y2="285.90" stroke="#555" stroke-width="0.7" />
<line x1="463.32" y1="284.30" x2="463.32" y2="285.90" stroke="#555" stroke-width="0.7" />
<line x1="467.77" y1="284.30" x2="467.77" y2="285.90" stroke="#555" stroke-width="0.7" />
<line x1="470.93" y1="284.30" x2="470.93" y2="285.90" stroke="#555" stroke-width="0.7" />
<line x1="473.38" y1="284.30" x2="473.38" y2="285.90" stroke="#555" stroke-width="0.7" />
<line x1="475.39" y1="284.30" x2="475.39" y2="285.90" stroke="#555" stroke-width="0.7" />
<line x1="477.08" y1="284.30" x2="477.08" y2="285.90" stroke="#555" stroke-width="0.7" />
<line x1="478.55" y1="284.30" x2="478.55" y2="285.90" stroke="#555" stroke-width="0.7" />
<line x1="479.84" y1="284.30" x2="479.84" y2="285.90" stroke="#555" stroke-width="0.7" />
<line x1="488.41" y1="284.30" x2="488.41" y2="285.90" stroke="#555" stroke-width="0.7" />
<line x1="492.74" y1="284.30" x2="492.74" y2="285.90" stroke="#555" stroke-width="0.7" />
<line x1="495.81" y1="284.30" x2="495.81" y2="285.90" stroke="#555" stroke-width="0.7" />
<line x1="498.19" y1="284.30" x2="498.19" y2="285.90" stroke="#555" stroke-width="0.7" />
<line x1="500.14" y1="284.30" x2="500.14" y2="285.90" stroke="#555" stroke-width="0.7" />
<line x1="501.79" y1="284.30" x2="501.79" y2="285.90" stroke="#555" stroke-width="0.7" />
<line x1="503.22" y1="284.30" x2="503.22" y2="285.90" stroke="#555" stroke-width="0.7" />
<line x1="504.47" y1="284.30" x2="504.47" y2="285.90" stroke="#555" stroke-width="0.7" />
<text x="406.70" y="295.60" font-size="7" text-anchor="middle" fill="#333" stroke="#333" stroke-width="0.12">10<tspan font-size="3.92" dy="-3.85">2</tspan></text>
<text x="431.30" y="295.60" font-size="7" text-anchor="middle" fill="#333" stroke="#333" stroke-width="0.12">10<tspan font-size="3.92" dy="-3.85">3</tspan></text>
<text x="456.40" y="295.60" font-size="7" text-anchor="middle" fill="#333" stroke="#333" stroke-width="0.12">10<tspan font-size="3.92" dy="-3.85">4</tspan></text>
<text x="481.70" y="295.60" font-size="7" text-anchor="middle" fill="#333" stroke="#333" stroke-width="0.12">10<tspan font-size="3.92" dy="-3.85">5</tspan></text>
<text x="506.30" y="295.60" font-size="7" text-anchor="middle" fill="#333" stroke="#333" stroke-width="0.12">10<tspan font-size="3.92" dy="-3.85">6</tspan></text>
<text x="0" y="0" font-size="9.7" text-anchor="middle" fill="#1a1a1a" stroke="#1a1a1a" stroke-width="0.42" textLength="29.33" lengthAdjust="spacing" transform="translate(396.20 232.80) rotate(-90) scale(0.6 1)">%Max</text>
<text x="0" y="0" font-size="9.7" text-anchor="middle" fill="#1a1a1a" stroke="#1a1a1a" stroke-width="0.42" textLength="43.67" lengthAdjust="spacing" transform="translate(458.10 308.30) scale(0.6 1)">4D7/APC</text>
<text x="456.00" y="172.40" font-size="6.8" text-anchor="middle" fill="#333" stroke="#333" stroke-width="0.12" textLength="26.8" lengthAdjust="spacingAndGlyphs" >Patient 4</text>
<line x1="121.20" y1="375.00" x2="121.20" y2="493.60" stroke="#222" stroke-width="1.2" />
<line x1="120.60" y1="493.10" x2="267.70" y2="493.10" stroke="#222" stroke-width="1.2" />
<line x1="119.60" y1="475.63" x2="121.00" y2="475.63" stroke="#444" stroke-width="0.6" />
<line x1="119.60" y1="465.47" x2="121.00" y2="465.47" stroke="#444" stroke-width="0.6" />
<line x1="119.60" y1="458.26" x2="121.00" y2="458.26" stroke="#444" stroke-width="0.6" />
<line x1="119.60" y1="452.67" x2="121.00" y2="452.67" stroke="#444" stroke-width="0.6" />
<line x1="119.60" y1="448.10" x2="121.00" y2="448.10" stroke="#444" stroke-width="0.6" />
<line x1="119.60" y1="444.24" x2="121.00" y2="444.24" stroke="#444" stroke-width="0.6" />
<line x1="119.60" y1="440.89" x2="121.00" y2="440.89" stroke="#444" stroke-width="0.6" />
<line x1="119.60" y1="437.94" x2="121.00" y2="437.94" stroke="#444" stroke-width="0.6" />
<line x1="119.60" y1="418.03" x2="121.00" y2="418.03" stroke="#444" stroke-width="0.6" />
<line x1="119.60" y1="407.87" x2="121.00" y2="407.87" stroke="#444" stroke-width="0.6" />
<line x1="119.60" y1="400.66" x2="121.00" y2="400.66" stroke="#444" stroke-width="0.6" />
<line x1="119.60" y1="395.07" x2="121.00" y2="395.07" stroke="#444" stroke-width="0.6" />
<line x1="119.60" y1="390.50" x2="121.00" y2="390.50" stroke="#444" stroke-width="0.6" />
<line x1="119.60" y1="386.64" x2="121.00" y2="386.64" stroke="#444" stroke-width="0.6" />
<line x1="119.60" y1="383.29" x2="121.00" y2="383.29" stroke="#444" stroke-width="0.6" />
<line x1="119.60" y1="380.34" x2="121.00" y2="380.34" stroke="#444" stroke-width="0.6" />
<line x1="118.80" y1="493.00" x2="121.00" y2="493.00" stroke="#222" stroke-width="0.9" />
<line x1="118.80" y1="435.40" x2="121.00" y2="435.40" stroke="#222" stroke-width="0.9" />
<line x1="118.80" y1="377.60" x2="121.00" y2="377.60" stroke="#222" stroke-width="0.9" />
<line x1="150.10" y1="493.00" x2="150.10" y2="495.60" stroke="#222" stroke-width="0.9" />
<line x1="194.00" y1="493.00" x2="194.00" y2="495.60" stroke="#222" stroke-width="0.9" />
<line x1="238.10" y1="493.00" x2="238.10" y2="495.60" stroke="#222" stroke-width="0.9" />
<text x="96.00" y="380.60" font-size="6.2" fill="#222" stroke="#222" stroke-width="0.12" textLength="16.3" lengthAdjust="spacing">1×10</text>
<text x="112.70" y="376.80" font-size="3.8" fill="#333">6</text>
<text x="96.00" y="438.20" font-size="6.2" fill="#222" stroke="#222" stroke-width="0.12" textLength="16.3" lengthAdjust="spacing">1×10</text>
<text x="112.70" y="434.40" font-size="3.8" fill="#333">5</text>
<text x="96.00" y="495.80" font-size="6.2" fill="#222" stroke="#222" stroke-width="0.12" textLength="16.3" lengthAdjust="spacing">1×10</text>
<text x="112.70" y="492.00" font-size="3.8" fill="#333">4</text>
<text x="0" y="0" font-size="9.7" text-anchor="middle" fill="#1a1a1a" stroke="#1a1a1a" stroke-width="0.42" textLength="26.17" lengthAdjust="spacing" transform="translate(88.10 433.70) rotate(-90) scale(0.6 1)">GMFI</text>
<text x="194.60" y="367.40" font-size="9.4" text-anchor="middle" fill="#222" stroke="#222" stroke-width="0.12" >3D12</text>
<path d="M150.20,409.80 L150.20,396.60 L237.80,396.60 L237.80,409.80" fill="none" stroke="#333" stroke-width="0.9"/>
<path d="M150.20,443.40 L150.20,417.70 L192.00,417.70 L192.00,429.70" fill="none" stroke="#333" stroke-width="0.9"/>
<path d="M196.00,429.70 L196.00,417.70 L237.80,417.70 L237.80,423.60" fill="none" stroke="#333" stroke-width="0.9"/>
<text x="194.00" y="395.80" font-size="6.8" text-anchor="middle" fill="#222" stroke="#222" stroke-width="0.12" >***</text>
<text x="171.30" y="414.80" font-size="6.8" text-anchor="middle" fill="#222" stroke="#222" stroke-width="0.12" >**</text>
<text x="217.20" y="414.60" font-size="6.6" text-anchor="middle" fill="#333" stroke="#333" stroke-width="0.12" >ns</text>
<line x1="150.10" y1="450.50" x2="150.10" y2="484.10" stroke="#222" stroke-width="0.9" />
<line x1="143.10" y1="450.50" x2="157.10" y2="450.50" stroke="#222" stroke-width="0.9" />
<line x1="143.10" y1="484.10" x2="157.10" y2="484.10" stroke="#222" stroke-width="0.9" />
<rect x="136.00" y="452.20" width="28.50" height="27.80" fill="#a6abb3" stroke="none" stroke-width="0.8" />
<line x1="136.00" y1="458.00" x2="164.50" y2="458.00" stroke="#6a6f76" stroke-width="1.3" />
<circle cx="146.90" cy="453.30" r="1.9" fill="#111"/>
<circle cx="153.60" cy="450.30" r="1.9" fill="#111"/>
<circle cx="153.60" cy="455.40" r="1.9" fill="#111"/>
<circle cx="150.10" cy="460.70" r="1.9" fill="#111"/>
<circle cx="150.10" cy="479.50" r="1.9" fill="#111"/>
<circle cx="150.10" cy="484.00" r="1.9" fill="#111"/>
<line x1="194.00" y1="436.80" x2="194.00" y2="448.20" stroke="#222" stroke-width="0.9" />
<line x1="187.00" y1="436.80" x2="201.00" y2="436.80" stroke="#222" stroke-width="0.9" />
<line x1="187.00" y1="448.20" x2="201.00" y2="448.20" stroke="#222" stroke-width="0.9" />
<rect x="180.10" y="439.70" width="27.90" height="8.20" fill="#c8163e" stroke="none" stroke-width="0.8" />
<line x1="180.10" y1="443.60" x2="208.00" y2="443.60" stroke="#8a0c28" stroke-width="1.3" />
<circle cx="194.30" cy="436.80" r="1.9" fill="#111"/>
<circle cx="187.20" cy="441.20" r="1.9" fill="#111"/>
<circle cx="194.30" cy="445.20" r="1.9" fill="#111"/>
<circle cx="187.20" cy="448.30" r="1.9" fill="#111"/>
<circle cx="201.10" cy="443.40" r="1.9" fill="#111"/>
<circle cx="201.10" cy="448.30" r="1.9" fill="#111"/>
<line x1="238.00" y1="431.00" x2="238.00" y2="447.10" stroke="#222" stroke-width="0.9" />
<line x1="231.00" y1="431.00" x2="245.00" y2="431.00" stroke="#222" stroke-width="0.9" />
<line x1="231.00" y1="447.10" x2="245.00" y2="447.10" stroke="#222" stroke-width="0.9" />
<rect x="224.10" y="432.10" width="27.70" height="10.40" fill="#1f5f9a" stroke="none" stroke-width="0.8" />
<line x1="224.10" y1="437.30" x2="251.80" y2="437.30" stroke="#0f3f70" stroke-width="1.3" />
<circle cx="234.20" cy="431.50" r="1.9" fill="#111"/>
<circle cx="241.40" cy="431.50" r="1.9" fill="#111"/>
<circle cx="238.00" cy="437.00" r="1.9" fill="#111"/>
<circle cx="234.20" cy="440.80" r="1.9" fill="#111"/>
<circle cx="241.40" cy="442.00" r="1.9" fill="#111"/>
<circle cx="238.00" cy="447.00" r="1.9" fill="#111"/>
<text x="152.00" y="504.60" font-size="7.3" text-anchor="end" fill="#222" stroke="#222" stroke-width="0.12" textLength="52" lengthAdjust="spacingAndGlyphs" transform="rotate(-45 152.00 504.60)" >CD38– CD138–</text>
<text x="195.90" y="504.60" font-size="7.3" text-anchor="end" fill="#222" stroke="#222" stroke-width="0.12" textLength="52" lengthAdjust="spacingAndGlyphs" transform="rotate(-45 195.90 504.60)" >CD38+ CD138–</text>
<text x="240.00" y="504.60" font-size="7.3" text-anchor="end" fill="#222" stroke="#222" stroke-width="0.12" textLength="52" lengthAdjust="spacingAndGlyphs" transform="rotate(-45 240.00 504.60)" >CD38+ CD138+</text>
<line x1="336.20" y1="376.00" x2="336.20" y2="493.60" stroke="#222" stroke-width="1.2" />
<line x1="335.60" y1="493.10" x2="483.00" y2="493.10" stroke="#222" stroke-width="1.2" />
<line x1="334.90" y1="475.69" x2="336.30" y2="475.69" stroke="#444" stroke-width="0.6" />
<line x1="334.90" y1="465.57" x2="336.30" y2="465.57" stroke="#444" stroke-width="0.6" />
<line x1="334.90" y1="458.38" x2="336.30" y2="458.38" stroke="#444" stroke-width="0.6" />
<line x1="334.90" y1="452.81" x2="336.30" y2="452.81" stroke="#444" stroke-width="0.6" />
<line x1="334.90" y1="448.26" x2="336.30" y2="448.26" stroke="#444" stroke-width="0.6" />
<line x1="334.90" y1="444.41" x2="336.30" y2="444.41" stroke="#444" stroke-width="0.6" />
<line x1="334.90" y1="441.07" x2="336.30" y2="441.07" stroke="#444" stroke-width="0.6" />
<line x1="334.90" y1="438.13" x2="336.30" y2="438.13" stroke="#444" stroke-width="0.6" />
<line x1="334.90" y1="418.19" x2="336.30" y2="418.19" stroke="#444" stroke-width="0.6" />
<line x1="334.90" y1="408.07" x2="336.30" y2="408.07" stroke="#444" stroke-width="0.6" />
<line x1="334.90" y1="400.88" x2="336.30" y2="400.88" stroke="#444" stroke-width="0.6" />
<line x1="334.90" y1="395.31" x2="336.30" y2="395.31" stroke="#444" stroke-width="0.6" />
<line x1="334.90" y1="390.76" x2="336.30" y2="390.76" stroke="#444" stroke-width="0.6" />
<line x1="334.90" y1="386.91" x2="336.30" y2="386.91" stroke="#444" stroke-width="0.6" />
<line x1="334.90" y1="383.57" x2="336.30" y2="383.57" stroke="#444" stroke-width="0.6" />
<line x1="334.90" y1="380.63" x2="336.30" y2="380.63" stroke="#444" stroke-width="0.6" />
<line x1="334.10" y1="493.00" x2="336.30" y2="493.00" stroke="#222" stroke-width="0.9" />
<line x1="334.10" y1="435.50" x2="336.30" y2="435.50" stroke="#222" stroke-width="0.9" />
<line x1="334.10" y1="378.00" x2="336.30" y2="378.00" stroke="#222" stroke-width="0.9" />
<line x1="365.20" y1="493.00" x2="365.20" y2="495.60" stroke="#222" stroke-width="0.9" />
<line x1="409.30" y1="493.00" x2="409.30" y2="495.60" stroke="#222" stroke-width="0.9" />
<line x1="452.60" y1="493.00" x2="452.60" y2="495.60" stroke="#222" stroke-width="0.9" />
<text x="310.90" y="380.90" font-size="6.2" fill="#222" stroke="#222" stroke-width="0.12" textLength="16.3" lengthAdjust="spacing">1×10</text>
<text x="327.60" y="377.10" font-size="3.8" fill="#333">5</text>
<text x="310.90" y="438.30" font-size="6.2" fill="#222" stroke="#222" stroke-width="0.12" textLength="16.3" lengthAdjust="spacing">1×10</text>
<text x="327.60" y="434.50" font-size="3.8" fill="#333">4</text>
<text x="310.90" y="495.90" font-size="6.2" fill="#222" stroke="#222" stroke-width="0.12" textLength="16.3" lengthAdjust="spacing">1×10</text>
<text x="327.60" y="492.10" font-size="3.8" fill="#333">3</text>
<text x="0" y="0" font-size="9.7" text-anchor="middle" fill="#1a1a1a" stroke="#1a1a1a" stroke-width="0.42" textLength="26.00" lengthAdjust="spacing" transform="translate(304.90 434.30) rotate(-90) scale(0.6 1)">GMFI</text>
<text x="409.50" y="367.40" font-size="9.4" text-anchor="middle" fill="#222" stroke="#222" stroke-width="0.12" >4D7</text>
<path d="M365.60,396.20 L365.60,384.20 L452.70,384.20 L452.70,396.20" fill="none" stroke="#333" stroke-width="0.9"/>
<path d="M365.60,459.00 L365.60,404.60 L406.60,404.60 L406.60,440.00" fill="none" stroke="#333" stroke-width="0.9"/>
<path d="M411.00,440.00 L411.00,404.60 L452.70,404.60 L452.70,410.60" fill="none" stroke="#333" stroke-width="0.9"/>
<text x="408.80" y="382.00" font-size="6.8" text-anchor="middle" fill="#222" stroke="#222" stroke-width="0.12" >****</text>
<text x="385.80" y="400.00" font-size="6.6" text-anchor="middle" fill="#333" stroke="#333" stroke-width="0.12" >ns</text>
<text x="432.00" y="402.20" font-size="6.8" text-anchor="middle" fill="#222" stroke="#222" stroke-width="0.12" >****</text>
<line x1="365.20" y1="466.30" x2="365.20" y2="478.30" stroke="#222" stroke-width="0.9" />
<line x1="358.20" y1="466.30" x2="372.20" y2="466.30" stroke="#222" stroke-width="0.9" />
<line x1="358.20" y1="478.30" x2="372.20" y2="478.30" stroke="#222" stroke-width="0.9" />
<rect x="351.25" y="467.30" width="27.85" height="9.80" fill="#b6bbc2" stroke="none" stroke-width="0.8" />
<line x1="351.25" y1="472.60" x2="379.10" y2="472.60" stroke="#555a61" stroke-width="1.3" />
<circle cx="361.60" cy="466.00" r="1.9" fill="#111"/>
<circle cx="368.60" cy="466.50" r="1.9" fill="#111"/>
<circle cx="365.20" cy="470.30" r="1.9" fill="#111"/>
<circle cx="365.20" cy="474.00" r="1.9" fill="#111"/>
<circle cx="358.00" cy="478.30" r="1.9" fill="#111"/>
<circle cx="372.00" cy="478.30" r="1.9" fill="#111"/>
<line x1="409.10" y1="447.20" x2="409.10" y2="468.80" stroke="#222" stroke-width="0.9" />
<line x1="402.10" y1="447.20" x2="416.10" y2="447.20" stroke="#222" stroke-width="0.9" />
<line x1="402.10" y1="468.80" x2="416.10" y2="468.80" stroke="#222" stroke-width="0.9" />
<rect x="395.00" y="453.80" width="28.10" height="9.70" fill="#c8163e" stroke="none" stroke-width="0.8" />
<line x1="395.00" y1="461.50" x2="423.10" y2="461.50" stroke="#8a0c28" stroke-width="1.3" />
<circle cx="409.10" cy="447.20" r="1.9" fill="#111"/>
<circle cx="409.10" cy="455.80" r="1.9" fill="#111"/>
<circle cx="401.60" cy="461.00" r="1.9" fill="#111"/>
<circle cx="409.10" cy="462.00" r="1.9" fill="#111"/>
<circle cx="416.20" cy="461.00" r="1.9" fill="#111"/>
<circle cx="409.10" cy="468.80" r="1.9" fill="#111"/>
<line x1="452.60" y1="418.00" x2="452.60" y2="426.20" stroke="#222" stroke-width="0.9" />
<line x1="445.60" y1="418.00" x2="459.60" y2="418.00" stroke="#222" stroke-width="0.9" />
<line x1="445.60" y1="426.20" x2="459.60" y2="426.20" stroke="#222" stroke-width="0.9" />
<rect x="438.20" y="418.75" width="28.80" height="6.75" fill="#1f5f9a" stroke="none" stroke-width="0.8" />
<line x1="438.20" y1="424.20" x2="467.00" y2="424.20" stroke="#0f3f70" stroke-width="1.3" />
<circle cx="449.20" cy="418.30" r="1.9" fill="#111"/>
<circle cx="455.80" cy="417.80" r="1.9" fill="#111"/>
<circle cx="449.20" cy="422.90" r="1.9" fill="#111"/>
<circle cx="442.20" cy="427.00" r="1.9" fill="#111"/>
<circle cx="455.80" cy="426.00" r="1.9" fill="#111"/>
<circle cx="462.80" cy="424.00" r="1.9" fill="#111"/>
<text x="367.10" y="504.60" font-size="7.3" text-anchor="end" fill="#222" stroke="#222" stroke-width="0.12" textLength="52" lengthAdjust="spacingAndGlyphs" transform="rotate(-45 367.10 504.60)" >CD38– CD138–</text>
<text x="411.20" y="504.60" font-size="7.3" text-anchor="end" fill="#222" stroke="#222" stroke-width="0.12" textLength="52" lengthAdjust="spacingAndGlyphs" transform="rotate(-45 411.20 504.60)" >CD38+ CD138–</text>
<text x="454.50" y="504.60" font-size="7.3" text-anchor="end" fill="#222" stroke="#222" stroke-width="0.12" textLength="52" lengthAdjust="spacingAndGlyphs" transform="rotate(-45 454.50 504.60)" >CD38+ CD138+</text>
<rect x="196.80" y="550.70" width="6.80" height="6.80" fill="#a8acb2" stroke="#555" stroke-width="0.8" />
<text x="207.00" y="556.60" font-size="7.2" text-anchor="start" fill="#333" stroke="#333" stroke-width="0.12" textLength="50.5" lengthAdjust="spacingAndGlyphs" >CD38– CD138–</text>
<rect x="268.80" y="550.70" width="6.80" height="6.80" fill="#e8607e" stroke="#a01030" stroke-width="0.8" />
<text x="279.00" y="556.60" font-size="7.2" text-anchor="start" fill="#333" stroke="#333" stroke-width="0.12" textLength="52.2" lengthAdjust="spacingAndGlyphs" >CD38+ CD138–</text>
<rect x="342.60" y="550.70" width="6.80" height="6.80" fill="#6e9ed0" stroke="#204c78" stroke-width="0.8" />
<text x="352.80" y="556.60" font-size="7.2" text-anchor="start" fill="#333" stroke="#333" stroke-width="0.12" textLength="51.3" lengthAdjust="spacingAndGlyphs" >CD38+ CD138+</text>
<rect x="0.50" y="0.50" width="519.00" height="564.00" fill="none" stroke="#3c3c3c" stroke-width="1.0" />
</svg></body></html>
